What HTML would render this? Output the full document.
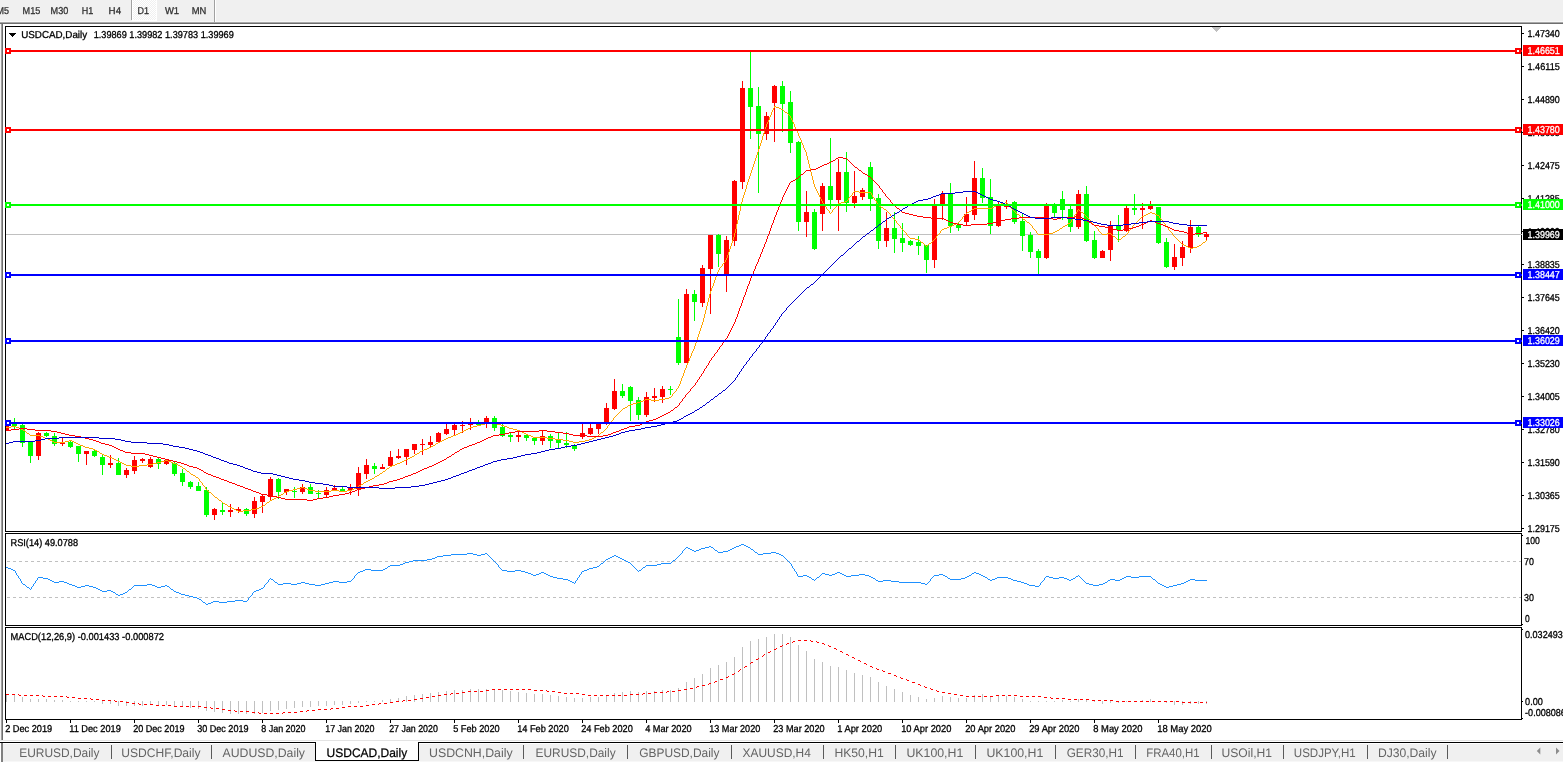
<!DOCTYPE html>
<html lang="en"><head><meta charset="utf-8"><title>USDCAD,Daily</title>
<style>html,body{margin:0;padding:0;background:#fff;overflow:hidden}body{width:1563px;height:763px}svg{display:block;font-family:"Liberation Sans",sans-serif}</style>
</head><body>
<svg width="1563" height="763" viewBox="0 0 1563 763" shape-rendering="crispEdges" text-rendering="geometricPrecision">
<defs><pattern id="chk" width="2" height="2" patternUnits="userSpaceOnUse"><rect width="2" height="2" fill="#f0f0f0"/><rect width="1" height="1" fill="#fff"/><rect x="1" y="1" width="1" height="1" fill="#fff"/></pattern>
<clipPath id="cm"><rect x="6" y="27" width="1515" height="504"/></clipPath></defs>
<rect x="0" y="0" width="1563" height="763" fill="#fff"/>
<g id="toolbar">
<rect x="0" y="0" width="1563" height="21" fill="#f0f0f0"/>
<rect x="0" y="21" width="1563" height="1" fill="#f7f7f7"/>
<rect x="0" y="22" width="1563" height="1" fill="#a8a8a8"/>
<rect x="0" y="23" width="1563" height="1" fill="#6e6e6e"/>
<rect x="133" y="0" width="23" height="20" fill="url(#chk)"/>
<rect x="156" y="0" width="1" height="21" fill="#fff"/>
<rect x="132" y="20" width="25" height="1" fill="#fff"/>
<rect x="131" y="0" width="1" height="20" fill="#a0a0a0"/>
<rect x="132" y="0" width="1" height="20" fill="#fff"/>
<rect x="214" y="0" width="1" height="22" fill="#a0a0a0"/>
<rect x="215" y="0" width="1" height="22" fill="#fff"/>
<text x="-3.5" y="14" font-size="10" fill="#333" stroke="#333" stroke-width="0.3" textLength="12.5" lengthAdjust="spacingAndGlyphs">M5</text>
<text x="22.6" y="14" font-size="10" fill="#333" stroke="#333" stroke-width="0.3" textLength="17.7" lengthAdjust="spacingAndGlyphs">M15</text>
<text x="50.6" y="14" font-size="10" fill="#333" stroke="#333" stroke-width="0.3" textLength="17.7" lengthAdjust="spacingAndGlyphs">M30</text>
<text x="81.7" y="14" font-size="10" fill="#333" stroke="#333" stroke-width="0.3" textLength="11.5" lengthAdjust="spacingAndGlyphs">H1</text>
<text x="108.6" y="14" font-size="10" fill="#333" stroke="#333" stroke-width="0.3" textLength="12.5" lengthAdjust="spacingAndGlyphs">H4</text>
<text x="137.6" y="14" font-size="10" fill="#333" stroke="#333" stroke-width="0.3" textLength="11.5" lengthAdjust="spacingAndGlyphs">D1</text>
<text x="164.9" y="14" font-size="10" fill="#333" stroke="#333" stroke-width="0.3" textLength="14.2" lengthAdjust="spacingAndGlyphs">W1</text>
<text x="191.7" y="14" font-size="10" fill="#333" stroke="#333" stroke-width="0.3" textLength="14.6" lengthAdjust="spacingAndGlyphs">MN</text>
</g>
<rect x="0" y="24" width="1" height="716" fill="#f4f4f4"/>
<rect x="1" y="24" width="1" height="716" fill="#a0a0a0"/>
<rect x="2" y="24" width="1" height="716" fill="#6e6e6e"/>
<g clip-path="url(#cm)">
<rect x="6" y="234" width="1515" height="1" fill="#c0c0c0"/>
<g id="candles">
<path fill="#f00" d="M6 420h1v11h-1zM4 420h5v11h-5zM38 432h1v28h-1zM36 433h5v23h-5zM62 438h1v8h-1zM60 442h5v2h-5zM86 451h1v14h-1zM84 451h5v3h-5zM110 455h1v13h-1zM108 463h5v2h-5zM126 468h1v10h-1zM124 470h5v5h-5zM134 456h1v18h-1zM132 460h5v11h-5zM142 458h1v5h-1zM140 459h5v2h-5zM150 457h1v11h-1zM148 459h5v8h-5zM166 460h1v5h-1zM164 460h5v4h-5zM214 508h1v12h-1zM212 509h5v6h-5zM230 504h1v13h-1zM228 510h5v2h-5zM238 507h1v6h-1zM236 509h5v2h-5zM254 497h1v21h-1zM252 501h5v13h-5zM262 495h1v18h-1zM260 496h5v6h-5zM270 477h1v23h-1zM268 479h5v18h-5zM286 489h1v6h-1zM284 489h5v3h-5zM302 484h1v10h-1zM300 487h5v5h-5zM326 487h1v11h-1zM324 490h5v5h-5zM334 485h1v6h-1zM332 488h5v3h-5zM350 484h1v11h-1zM348 488h5v2h-5zM358 467h1v29h-1zM356 473h5v16h-5zM366 459h1v20h-1zM364 465h5v9h-5zM382 464h1v5h-1zM380 467h5v2h-5zM390 451h1v15h-1zM388 457h5v9h-5zM398 449h1v10h-1zM396 456h5v2h-5zM406 449h1v16h-1zM404 449h5v8h-5zM414 444h1v10h-1zM412 444h5v6h-5zM422 439h1v16h-1zM420 444h5v1h-5zM430 436h1v11h-1zM428 442h5v3h-5zM438 432h1v11h-1zM436 433h5v9h-5zM446 424h1v11h-1zM444 429h5v5h-5zM454 424h1v11h-1zM452 425h5v5h-5zM462 421h1v12h-1zM460 425h5v1h-5zM470 418h1v12h-1zM468 423h5v2h-5zM486 416h1v12h-1zM484 418h5v6h-5zM518 431h1v11h-1zM516 435h5v2h-5zM542 430h1v15h-1zM540 436h5v5h-5zM582 424h1v15h-1zM580 433h5v4h-5zM590 424h1v11h-1zM588 428h5v6h-5zM598 422h1v12h-1zM596 424h5v5h-5zM606 403h1v22h-1zM604 408h5v15h-5zM614 379h1v31h-1zM612 391h5v18h-5zM646 392h1v25h-1zM644 397h5v18h-5zM654 388h1v14h-1zM652 396h5v2h-5zM662 386h1v17h-1zM660 389h5v8h-5zM686 289h1v74h-1zM684 294h5v69h-5zM702 265h1v42h-1zM700 268h5v35h-5zM710 235h1v79h-1zM708 235h5v34h-5zM726 236h1v56h-1zM724 240h5v35h-5zM734 180h1v66h-1zM732 181h5v60h-5zM742 81h1v108h-1zM740 88h5v94h-5zM766 112h1v28h-1zM764 116h5v18h-5zM774 85h1v57h-1zM772 86h5v17h-5zM806 191h1v46h-1zM804 212h5v10h-5zM822 183h1v48h-1zM820 186h5v28h-5zM838 159h1v72h-1zM836 172h5v28h-5zM854 171h1v37h-1zM852 196h5v7h-5zM862 188h1v12h-1zM860 190h5v7h-5zM886 212h1v35h-1zM884 228h5v13h-5zM934 199h1v69h-1zM932 205h5v55h-5zM942 191h1v29h-1zM940 194h5v10h-5zM966 197h1v28h-1zM964 214h5v8h-5zM974 161h1v59h-1zM972 178h5v37h-5zM998 202h1v25h-1zM996 205h5v21h-5zM1006 200h1v9h-1zM1004 206h5v1h-5zM1046 203h1v56h-1zM1044 206h5v52h-5zM1078 190h1v39h-1zM1076 194h5v33h-5zM1102 250h1v8h-1zM1100 251h5v7h-5zM1110 221h1v40h-1zM1108 225h5v25h-5zM1126 206h1v26h-1zM1124 208h5v23h-5zM1142 203h1v26h-1zM1140 208h5v2h-5zM1150 201h1v9h-1zM1148 206h5v3h-5zM1174 244h1v26h-1zM1172 257h5v10h-5zM1182 241h1v25h-1zM1180 247h5v11h-5zM1190 220h1v33h-1zM1188 227h5v21h-5zM1206 233h1v7h-1zM1204 234h5v3h-5z"/>
<path fill="#0f0" d="M14 418h1v11h-1zM12 422h5v4h-5zM22 424h1v23h-1zM20 425h5v18h-5zM30 442h1v21h-1zM28 442h5v14h-5zM46 432h1v5h-1zM44 433h5v3h-5zM54 433h1v13h-1zM52 436h5v8h-5zM70 441h1v7h-1zM68 442h5v5h-5zM78 446h1v16h-1zM76 446h5v8h-5zM94 450h1v7h-1zM92 451h5v5h-5zM102 455h1v20h-1zM100 457h5v8h-5zM118 458h1v17h-1zM116 463h5v12h-5zM158 458h1v11h-1zM156 459h5v5h-5zM174 462h1v14h-1zM172 463h5v11h-5zM182 469h1v17h-1zM180 473h5v9h-5zM190 481h1v8h-1zM188 482h5v5h-5zM198 482h1v9h-1zM196 486h5v5h-5zM206 487h1v30h-1zM204 490h5v25h-5zM222 502h1v13h-1zM220 510h5v2h-5zM246 508h1v8h-1zM244 509h5v5h-5zM278 478h1v21h-1zM276 479h5v13h-5zM294 487h1v11h-1zM292 491h5v1h-5zM310 484h1v10h-1zM308 487h5v7h-5zM318 490h1v8h-1zM316 493h5v1h-5zM342 487h1v4h-1zM340 489h5v2h-5zM374 463h1v11h-1zM372 466h5v3h-5zM478 420h1v5h-1zM476 422h5v3h-5zM494 416h1v15h-1zM492 418h5v10h-5zM502 424h1v13h-1zM500 427h5v9h-5zM510 433h1v9h-1zM508 435h5v2h-5zM526 434h1v7h-1zM524 435h5v3h-5zM534 437h1v8h-1zM532 438h5v3h-5zM550 434h1v14h-1zM548 436h5v5h-5zM558 433h1v16h-1zM556 440h5v3h-5zM566 432h1v16h-1zM564 443h5v2h-5zM574 444h1v7h-1zM572 445h5v4h-5zM622 384h1v14h-1zM620 391h5v5h-5zM630 386h1v35h-1zM628 387h5v14h-5zM638 397h1v23h-1zM636 400h5v15h-5zM670 386h1v9h-1zM668 389h5v1h-5zM678 299h1v66h-1zM676 337h5v26h-5zM694 290h1v31h-1zM692 294h5v8h-5zM718 234h1v33h-1zM716 235h5v19h-5zM750 52h1v87h-1zM748 88h5v19h-5zM758 87h1v106h-1zM756 106h5v28h-5zM782 81h1v51h-1zM780 86h5v18h-5zM790 91h1v62h-1zM788 102h5v41h-5zM798 141h1v90h-1zM796 142h5v80h-5zM814 209h1v41h-1zM812 212h5v37h-5zM830 138h1v71h-1zM828 186h5v14h-5zM846 152h1v60h-1zM844 172h5v31h-5zM870 162h1v49h-1zM868 167h5v32h-5zM878 194h1v55h-1zM876 198h5v43h-5zM894 212h1v41h-1zM892 228h5v11h-5zM902 223h1v29h-1zM900 238h5v5h-5zM910 240h1v6h-1zM908 241h5v4h-5zM918 236h1v19h-1zM916 242h5v4h-5zM926 245h1v28h-1zM924 245h5v15h-5zM950 183h1v50h-1zM948 194h5v32h-5zM958 223h1v8h-1zM956 225h5v3h-5zM982 168h1v35h-1zM980 178h5v20h-5zM990 179h1v55h-1zM988 197h5v29h-5zM1014 201h1v23h-1zM1012 202h5v20h-5zM1022 214h1v37h-1zM1020 221h5v15h-5zM1030 232h1v26h-1zM1028 235h5v17h-5zM1038 249h1v25h-1zM1036 251h5v7h-5zM1054 203h1v14h-1zM1052 205h5v8h-5zM1062 191h1v29h-1zM1060 199h5v11h-5zM1070 206h1v26h-1zM1068 209h5v18h-5zM1086 186h1v56h-1zM1084 194h5v47h-5zM1094 231h1v28h-1zM1092 240h5v18h-5zM1118 215h1v27h-1zM1116 225h5v5h-5zM1134 194h1v21h-1zM1132 208h5v2h-5zM1158 207h1v37h-1zM1156 207h5v36h-5zM1166 238h1v30h-1zM1164 242h5v25h-5zM1198 226h1v11h-1zM1196 227h5v8h-5z"/>
</g>
<g id="ma">
<path fill="#ffa500" d="M610 422h1v2h-1zM684 370h1v3h-1zM199 479h1v2h-1zM750 173h1v3h-1zM735 229h1v4h-1zM681 378h1v3h-1zM717 272h1v3h-1zM1076 212h1v2h-1zM697 337h1v3h-1zM762 136h1v4h-1zM814 184h1v3h-1zM794 124h1v3h-1zM704 314h1v4h-1zM890 214h1v2h-1zM742 198h1v4h-1zM821 199h1v2h-1zM801 140h1v3h-1zM822 201h1v2h-1zM691 353h1v3h-1zM680 381h1v3h-1zM807 156h1v4h-1zM708 298h1v4h-1zM676 389h1v2h-1zM695 343h1v3h-1zM1071 220h1v2h-1zM703 318h1v4h-1zM741 202h1v4h-1zM733 237h1v3h-1zM765 127h1v3h-1zM810 168h1v4h-1zM745 189h1v3h-1zM795 127h1v2h-1zM813 180h1v4h-1zM753 164h1v3h-1zM802 143h1v2h-1zM1036 231h1v2h-1zM820 197h1v2h-1zM711 288h1v3h-1zM806 152h1v4h-1zM740 206h1v5h-1zM764 130h1v3h-1zM744 192h1v3h-1zM772 110h1v2h-1zM710 291h1v3h-1zM739 211h1v4h-1zM730 246h1v3h-1zM756 155h1v3h-1zM714 280h1v3h-1zM705 310h1v4h-1zM743 195h1v3h-1zM768 120h1v2h-1zM747 182h1v3h-1zM688 361h1v2h-1zM729 249h1v3h-1zM755 158h1v3h-1zM754 161h1v3h-1zM713 283h1v3h-1zM205 487h1v2h-1zM759 146h1v3h-1zM746 185h1v4h-1zM687 363h1v2h-1zM737 220h1v4h-1zM1162 220h1v2h-1zM732 240h1v3h-1zM686 365h1v3h-1zM796 129h1v2h-1zM877 203h1v2h-1zM694 346h1v3h-1zM731 243h1v3h-1zM719 268h1v2h-1zM693 349h1v2h-1zM906 233h1v2h-1zM798 133h1v3h-1zM734 233h1v4h-1zM767 122h1v2h-1zM826 207h1v2h-1zM962 217h1v2h-1zM738 215h1v5h-1zM696 340h1v3h-1zM1072 218h1v2h-1zM202 483h1v2h-1zM679 384h1v2h-1zM700 328h1v3h-1zM848 198h1v2h-1zM811 172h1v4h-1zM1159 216h1v2h-1zM683 373h1v3h-1zM712 286h1v2h-1zM803 145h1v3h-1zM716 275h1v2h-1zM736 224h1v5h-1zM690 356h1v2h-1zM809 164h1v4h-1zM1074 215h1v2h-1zM689 358h1v3h-1zM936 236h1v2h-1zM1077 210h1v2h-1zM791 118h1v2h-1zM726 258h1v2h-1zM815 187h1v2h-1zM808 160h1v4h-1zM871 193h1v2h-1zM771 112h1v3h-1zM725 260h1v2h-1zM852 193h1v2h-1zM758 149h1v3h-1zM709 294h1v4h-1zM613 418h1v2h-1zM774 106h1v2h-1zM1128 231h1v2h-1zM749 176h1v3h-1zM832 210h1v2h-1zM757 152h1v3h-1zM699 331h1v3h-1zM1165 224h1v2h-1zM1032 226h1v2h-1zM1010 206h1v2h-1zM761 140h1v3h-1zM769 117h1v3h-1zM682 376h1v2h-1zM748 179h1v3h-1zM698 334h1v3h-1zM707 302h1v4h-1zM812 176h1v4h-1zM752 167h1v3h-1zM760 143h1v3h-1zM805 150h1v2h-1zM702 322h1v3h-1zM823 203h1v2h-1zM940 231h1v2h-1zM685 368h1v2h-1zM701 325h1v3h-1zM763 133h1v3h-1zM797 131h1v2h-1zM692 351h1v2h-1zM1132 226h1v2h-1zM817 191h1v2h-1zM770 115h1v2h-1zM1090 220h1v2h-1zM715 277h1v3h-1zM819 195h1v2h-1zM816 189h1v2h-1zM672 394h1v2h-1zM872 195h1v2h-1zM751 170h1v3h-1zM829 211h1v2h-1zM793 122h1v2h-1zM790 116h1v2h-1zM800 138h1v2h-1zM804 148h1v2h-1zM728 252h1v3h-1zM874 198h1v2h-1zM896 221h1v2h-1zM766 124h1v3h-1zM727 255h1v3h-1zM706 306h1v4h-1zM773 108h1v2h-1zM876 201h1v2h-1zM1168 228h1v2h-1zM722 264h1v2h-1zM607 426h1v2h-1zM718 270h1v2h-1zM1098 229h1v2h-1zM836 205h1v2h-1zM900 226h1v2h-1zM818 193h1v2h-1zM678 386h1v2h-1zM792 120h1v2h-1zM1172 233h1v2h-1zM799 136h1v2h-1zM643 400h2v1h-2zM651 400h8v1h-8zM122 463h2v1h-2zM153 463h4v1h-4zM173 463h3v1h-3zM397 463h3v1h-3zM949 226h3v1h-3zM1063 226h2v1h-2zM1095 226h1v1h-1zM1166 226h1v1h-1zM924 244h1v1h-1zM928 244h1v1h-1zM1182 244h2v1h-2zM1201 244h1v1h-1zM903 230h1v1h-1zM941 230h1v1h-1zM1035 230h1v1h-1zM1057 230h2v1h-2zM1129 230h1v1h-1zM1169 230h1v1h-1zM640 401h3v1h-3zM908 236h1v1h-1zM1113 236h2v1h-2zM1123 236h2v1h-2zM1174 236h1v1h-1zM939 233h1v1h-1zM1037 233h1v1h-1zM1049 233h4v1h-4zM1101 233h1v1h-1zM1107 233h4v1h-4zM1127 233h1v1h-1zM830 213h1v1h-1zM889 213h1v1h-1zM966 213h1v1h-1zM1016 213h1v1h-1zM1083 213h1v1h-1zM1148 213h2v1h-2zM1152 213h3v1h-3zM198 478h1v1h-1zM372 478h2v1h-2zM485 423h12v1h-12zM212 494h1v1h-1zM281 494h2v1h-2zM938 234h1v1h-1zM1038 234h11v1h-11zM1102 234h5v1h-5zM1111 234h1v1h-1zM1126 234h1v1h-1zM6 427h5v1h-5zM16 427h3v1h-3zM470 427h3v1h-3zM507 427h2v1h-2zM11 426h5v1h-5zM473 426h4v1h-4zM504 426h3v1h-3zM902 229h1v1h-1zM942 229h2v1h-2zM1034 229h1v1h-1zM1059 229h1v1h-1zM1130 229h1v1h-1zM920 241h1v1h-1zM932 241h1v1h-1zM1179 241h1v1h-1zM1205 241h1v1h-1zM228 506h2v1h-2zM261 506h2v1h-2zM207 490h1v1h-1zM289 490h4v1h-4zM309 490h6v1h-6zM331 490h8v1h-8zM347 490h5v1h-5zM131 466h8v1h-8zM180 466h2v1h-2zM390 466h2v1h-2zM297 488h4v1h-4zM304 488h3v1h-3zM354 488h2v1h-2zM834 208h1v1h-1zM883 208h1v1h-1zM974 208h18v1h-18zM1011 208h1v1h-1zM849 197h1v1h-1zM873 197h1v1h-1zM926 246h1v1h-1zM1186 246h2v1h-2zM1197 246h2v1h-2zM50 440h2v1h-2zM69 440h3v1h-3zM442 440h2v1h-2zM563 440h6v1h-6zM585 440h4v1h-4zM910 238h5v1h-5zM935 238h1v1h-1zM1116 238h1v1h-1zM1121 238h1v1h-1zM1176 238h1v1h-1zM841 202h4v1h-4zM1005 202h2v1h-2zM898 224h1v1h-1zM954 224h2v1h-2zM1030 224h1v1h-1zM1067 224h1v1h-1zM1093 224h1v1h-1zM1134 224h1v1h-1zM965 214h1v1h-1zM1017 214h2v1h-2zM1075 214h1v1h-1zM1084 214h1v1h-1zM1146 214h2v1h-2zM1155 214h2v1h-2zM837 204h1v1h-1zM998 204h3v1h-3zM1008 204h1v1h-1zM30 435h10v1h-10zM453 435h3v1h-3zM528 435h3v1h-3zM598 435h1v1h-1zM645 399h6v1h-6zM659 399h6v1h-6zM118 461h2v1h-2zM161 461h4v1h-4zM168 461h3v1h-3zM402 461h2v1h-2zM905 232h1v1h-1zM1053 232h2v1h-2zM1100 232h1v1h-1zM1171 232h1v1h-1zM907 235h1v1h-1zM937 235h1v1h-1zM1112 235h1v1h-1zM1125 235h1v1h-1zM1173 235h1v1h-1zM78 444h2v1h-2zM435 444h1v1h-1zM206 489h1v1h-1zM293 489h4v1h-4zM307 489h2v1h-2zM352 489h2v1h-2zM964 215h1v1h-1zM1019 215h1v1h-1zM1085 215h1v1h-1zM1144 215h2v1h-2zM1157 215h2v1h-2zM190 473h1v1h-1zM380 473h2v1h-2zM959 221h1v1h-1zM1026 221h1v1h-1zM1137 221h1v1h-1zM1188 247h2v1h-2zM1193 247h4v1h-4zM40 436h3v1h-3zM451 436h2v1h-2zM531 436h2v1h-2zM596 436h2v1h-2zM923 243h1v1h-1zM929 243h2v1h-2zM1181 243h1v1h-1zM1202 243h1v1h-1zM618 413h1v1h-1zM54 442h11v1h-11zM74 442h2v1h-2zM438 442h2v1h-2zM573 442h6v1h-6zM854 191h5v1h-5zM27 433h2v1h-2zM458 433h2v1h-2zM524 433h2v1h-2zM600 433h1v1h-1zM892 217h1v1h-1zM1021 217h1v1h-1zM1073 217h1v1h-1zM1087 217h1v1h-1zM1141 217h1v1h-1zM124 464h2v1h-2zM147 464h6v1h-6zM176 464h2v1h-2zM395 464h2v1h-2zM1190 248h3v1h-3zM186 470h1v1h-1zM385 470h1v1h-1zM825 206h1v1h-1zM879 206h2v1h-2zM994 206h2v1h-2zM43 437h2v1h-2zM448 437h3v1h-3zM533 437h14v1h-14zM594 437h2v1h-2zM230 507h2v1h-2zM259 507h2v1h-2zM893 218h1v1h-1zM1022 218h1v1h-1zM1088 218h1v1h-1zM1140 218h1v1h-1zM1160 218h1v1h-1zM897 223h1v1h-1zM956 223h2v1h-2zM1029 223h1v1h-1zM1068 223h2v1h-2zM1092 223h1v1h-1zM1135 223h1v1h-1zM1164 223h1v1h-1zM958 222h1v1h-1zM1027 222h2v1h-2zM1070 222h1v1h-1zM1091 222h1v1h-1zM1136 222h1v1h-1zM1163 222h1v1h-1zM208 491h1v1h-1zM286 491h3v1h-3zM315 491h16v1h-16zM339 491h8v1h-8zM901 228h1v1h-1zM944 228h3v1h-3zM1033 228h1v1h-1zM1060 228h2v1h-2zM1097 228h1v1h-1zM1131 228h1v1h-1zM481 424h4v1h-4zM497 424h4v1h-4zM609 424h1v1h-1zM97 451h2v1h-2zM420 451h2v1h-2zM25 431h1v1h-1zM462 431h2v1h-2zM520 431h2v1h-2zM603 431h1v1h-1zM107 456h2v1h-2zM412 456h2v1h-2zM238 511h5v1h-5zM947 227h2v1h-2zM1062 227h1v1h-1zM1096 227h1v1h-1zM1167 227h1v1h-1zM899 225h1v1h-1zM952 225h2v1h-2zM1031 225h1v1h-1zM1065 225h2v1h-2zM1094 225h1v1h-1zM1133 225h1v1h-1zM234 509h2v1h-2zM251 509h5v1h-5zM223 503h2v1h-2zM266 503h1v1h-1zM894 219h1v1h-1zM961 219h1v1h-1zM1023 219h2v1h-2zM1089 219h1v1h-1zM1139 219h1v1h-1zM1161 219h1v1h-1zM827 209h1v1h-1zM833 209h1v1h-1zM884 209h2v1h-2zM972 209h2v1h-2zM1012 209h1v1h-1zM1078 209h1v1h-1zM52 441h2v1h-2zM65 441h4v1h-4zM72 441h2v1h-2zM440 441h2v1h-2zM569 441h4v1h-4zM579 441h6v1h-6zM19 428h2v1h-2zM468 428h2v1h-2zM509 428h4v1h-4zM606 428h1v1h-1zM221 501h1v1h-1zM269 501h1v1h-1zM236 510h2v1h-2zM243 510h8v1h-8zM853 192h1v1h-1zM859 192h12v1h-12zM209 492h2v1h-2zM284 492h2v1h-2zM85 447h4v1h-4zM429 447h2v1h-2zM191 474h2v1h-2zM379 474h1v1h-1zM83 446h2v1h-2zM431 446h2v1h-2zM193 475h2v1h-2zM377 475h2v1h-2zM26 432h1v1h-1zM460 432h2v1h-2zM522 432h2v1h-2zM601 432h2v1h-2zM45 438h3v1h-3zM446 438h2v1h-2zM547 438h8v1h-8zM592 438h2v1h-2zM48 439h2v1h-2zM444 439h2v1h-2zM555 439h8v1h-8zM589 439h3v1h-3zM368 480h2v1h-2zM615 416h1v1h-1zM126 465h5v1h-5zM139 465h8v1h-8zM178 465h2v1h-2zM392 465h3v1h-3zM785 112h2v1h-2zM915 239h4v1h-4zM934 239h1v1h-1zM1117 239h1v1h-1zM1119 239h2v1h-2zM1177 239h1v1h-1zM625 407h2v1h-2zM80 445h3v1h-3zM433 445h2v1h-2zM195 476h1v1h-1zM375 476h2v1h-2zM671 396h1v1h-1zM630 404h3v1h-3zM622 409h1v1h-1zM112 458h2v1h-2zM408 458h2v1h-2zM665 398h4v1h-4zM887 211h1v1h-1zM969 211h2v1h-2zM1014 211h1v1h-1zM1080 211h1v1h-1zM23 430h2v1h-2zM464 430h2v1h-2zM517 430h3v1h-3zM604 430h1v1h-1zM76 443h2v1h-2zM436 443h2v1h-2zM637 402h3v1h-3zM89 448h4v1h-4zM427 448h2v1h-2zM477 425h4v1h-4zM501 425h3v1h-3zM608 425h1v1h-1zM201 482h1v1h-1zM364 482h2v1h-2zM721 266h1v1h-1zM120 462h2v1h-2zM157 462h4v1h-4zM171 462h2v1h-2zM400 462h2v1h-2zM301 487h3v1h-3zM356 487h2v1h-2zM824 205h1v1h-1zM878 205h1v1h-1zM996 205h2v1h-2zM1009 205h1v1h-1zM219 500h2v1h-2zM270 500h2v1h-2zM724 262h1v1h-1zM835 207h1v1h-1zM881 207h2v1h-2zM992 207h2v1h-2zM925 245h1v1h-1zM927 245h1v1h-1zM1184 245h2v1h-2zM1199 245h2v1h-2zM215 497h2v1h-2zM276 497h2v1h-2zM781 109h2v1h-2zM904 231h1v1h-1zM1055 231h2v1h-2zM1099 231h1v1h-1zM1170 231h1v1h-1zM838 203h3v1h-3zM1001 203h4v1h-4zM1007 203h1v1h-1zM232 508h2v1h-2zM256 508h3v1h-3zM114 459h2v1h-2zM406 459h2v1h-2zM104 455h3v1h-3zM414 455h1v1h-1zM921 242h2v1h-2zM931 242h1v1h-1zM1180 242h1v1h-1zM1203 242h2v1h-2zM95 450h2v1h-2zM422 450h2v1h-2zM109 457h3v1h-3zM410 457h2v1h-2zM99 452h1v1h-1zM419 452h1v1h-1zM29 434h1v1h-1zM456 434h2v1h-2zM526 434h2v1h-2zM599 434h1v1h-1zM831 212h1v1h-1zM888 212h1v1h-1zM967 212h2v1h-2zM1015 212h1v1h-1zM1081 212h2v1h-2zM1150 212h2v1h-2zM361 484h2v1h-2zM776 107h3v1h-3zM102 454h2v1h-2zM415 454h2v1h-2zM851 195h1v1h-1zM370 479h2v1h-2zM187 471h2v1h-2zM383 471h2v1h-2zM623 408h2v1h-2zM628 405h2v1h-2zM21 429h2v1h-2zM466 429h2v1h-2zM513 429h4v1h-4zM605 429h1v1h-1zM617 414h1v1h-1zM612 420h1v1h-1zM182 467h1v1h-1zM389 467h1v1h-1zM227 505h1v1h-1zM263 505h2v1h-2zM669 397h2v1h-2zM213 495h1v1h-1zM279 495h2v1h-2zM222 502h1v1h-1zM267 502h2v1h-2zM200 481h1v1h-1zM366 481h2v1h-2zM183 468h2v1h-2zM387 468h2v1h-2zM203 485h1v1h-1zM359 485h2v1h-2zM828 210h1v1h-1zM886 210h1v1h-1zM971 210h1v1h-1zM1013 210h1v1h-1zM1079 210h1v1h-1zM204 486h1v1h-1zM358 486h1v1h-1zM891 216h1v1h-1zM963 216h1v1h-1zM1020 216h1v1h-1zM1086 216h1v1h-1zM1142 216h2v1h-2zM116 460h2v1h-2zM165 460h3v1h-3zM404 460h2v1h-2zM673 393h1v1h-1zM919 240h1v1h-1zM933 240h1v1h-1zM1118 240h1v1h-1zM1178 240h1v1h-1zM1206 240h1v1h-1zM633 403h4v1h-4zM211 493h1v1h-1zM283 493h1v1h-1zM225 504h2v1h-2zM265 504h1v1h-1zM788 114h1v1h-1zM196 477h2v1h-2zM374 477h1v1h-1zM93 449h2v1h-2zM424 449h3v1h-3zM363 483h1v1h-1zM787 113h1v1h-1zM909 237h1v1h-1zM1115 237h1v1h-1zM1122 237h1v1h-1zM1175 237h1v1h-1zM850 196h1v1h-1zM619 412h1v1h-1zM100 453h2v1h-2zM417 453h2v1h-2zM214 496h1v1h-1zM278 496h1v1h-1zM783 110h1v1h-1zM217 498h1v1h-1zM274 498h2v1h-2zM611 421h1v1h-1zM189 472h1v1h-1zM382 472h1v1h-1zM779 108h2v1h-2zM775 106h1v1h-1zM845 201h2v1h-2zM675 391h1v1h-1zM614 417h1v1h-1zM895 220h1v1h-1zM960 220h1v1h-1zM1025 220h1v1h-1zM1138 220h1v1h-1zM720 267h1v1h-1zM621 410h1v1h-1zM847 200h1v1h-1zM875 200h1v1h-1zM789 115h1v1h-1zM218 499h1v1h-1zM272 499h2v1h-2zM616 415h1v1h-1zM674 392h1v1h-1zM723 263h1v1h-1zM784 111h1v1h-1zM185 469h1v1h-1zM386 469h1v1h-1zM627 406h1v1h-1zM620 411h1v1h-1zM677 388h1v1h-1z"/>
<path fill="#f00" d="M739 308h1v3h-1zM773 220h1v3h-1zM728 334h1v2h-1zM748 284h1v2h-1zM783 195h1v2h-1zM679 403h1v2h-1zM772 223h1v2h-1zM727 336h1v2h-1zM722 343h1v2h-1zM746 289h1v3h-1zM780 202h1v3h-1zM755 266h1v3h-1zM770 228h1v3h-1zM738 311h1v3h-1zM706 366h1v2h-1zM779 205h1v2h-1zM733 324h1v2h-1zM787 187h1v2h-1zM742 300h1v3h-1zM762 249h1v3h-1zM749 281h1v3h-1zM769 231h1v3h-1zM685 395h1v2h-1zM732 326h1v2h-1zM766 239h1v3h-1zM701 374h1v2h-1zM786 189h1v2h-1zM740 306h1v2h-1zM756 264h1v2h-1zM731 328h1v2h-1zM763 247h1v2h-1zM752 274h1v2h-1zM711 358h1v2h-1zM735 319h1v3h-1zM759 257h1v2h-1zM697 380h1v2h-1zM751 276h1v2h-1zM879 186h1v2h-1zM750 278h1v3h-1zM758 259h1v3h-1zM690 389h1v2h-1zM741 303h1v3h-1zM782 197h1v3h-1zM745 292h1v3h-1zM765 242h1v2h-1zM781 200h1v2h-1zM764 244h1v3h-1zM743 297h1v3h-1zM734 322h1v2h-1zM775 215h1v2h-1zM730 330h1v2h-1zM885 194h1v2h-1zM774 217h1v3h-1zM729 332h1v2h-1zM725 339h1v2h-1zM757 262h1v2h-1zM789 183h1v2h-1zM719 347h1v2h-1zM744 295h1v2h-1zM760 254h1v3h-1zM768 234h1v2h-1zM788 185h1v2h-1zM699 377h1v2h-1zM695 383h1v2h-1zM747 286h1v3h-1zM767 236h1v3h-1zM682 399h1v2h-1zM771 225h1v3h-1zM754 269h1v2h-1zM709 361h1v2h-1zM737 314h1v3h-1zM778 207h1v3h-1zM761 252h1v2h-1zM708 363h1v2h-1zM704 369h1v2h-1zM777 210h1v2h-1zM785 191h1v2h-1zM784 193h1v2h-1zM714 354h1v2h-1zM753 271h1v3h-1zM703 371h1v2h-1zM776 212h1v3h-1zM890 200h1v2h-1zM882 190h1v2h-1zM717 350h1v2h-1zM736 317h1v2h-1zM804 172h1v1h-1zM862 172h1v1h-1zM256 492h3v1h-3zM349 492h3v1h-3zM680 402h1v1h-1zM204 472h2v1h-2zM416 472h2v1h-2zM1109 228h4v1h-4zM1129 228h4v1h-4zM1170 228h2v1h-2zM656 418h2v1h-2zM923 217h8v1h-8zM1019 217h30v1h-30zM1061 217h14v1h-14zM1080 217h2v1h-2zM61 433h4v1h-4zM505 433h4v1h-4zM563 433h6v1h-6zM611 433h2v1h-2zM307 500h6v1h-6zM11 429h8v1h-8zM27 429h8v1h-8zM621 429h3v1h-3zM273 496h4v1h-4zM329 496h4v1h-4zM69 435h6v1h-6zM493 435h6v1h-6zM573 435h14v1h-14zM603 435h5v1h-5zM696 382h1v1h-1zM285 499h22v1h-22zM313 499h4v1h-4zM805 171h1v1h-1zM861 171h1v1h-1zM93 440h3v1h-3zM482 440h2v1h-2zM237 485h3v1h-3zM373 485h6v1h-6zM75 436h6v1h-6zM491 436h2v1h-2zM587 436h16v1h-16zM251 490h2v1h-2zM355 490h2v1h-2zM131 453h14v1h-14zM454 453h1v1h-1zM51 431h6v1h-6zM515 431h24v1h-24zM547 431h8v1h-8zM616 431h3v1h-3zM281 498h4v1h-4zM317 498h6v1h-6zM691 388h1v1h-1zM261 494h6v1h-6zM339 494h6v1h-6zM123 451h2v1h-2zM457 451h2v1h-2zM950 222h3v1h-3zM993 222h4v1h-4zM1089 222h2v1h-2zM1146 222h2v1h-2zM1155 222h2v1h-2zM917 216h6v1h-6zM1075 216h5v1h-5zM931 218h13v1h-13zM1011 218h8v1h-8zM1049 218h4v1h-4zM1057 218h4v1h-4zM1082 218h2v1h-2zM649 420h4v1h-4zM187 465h2v1h-2zM432 465h2v1h-2zM149 455h4v1h-4zM451 455h1v1h-1zM259 493h2v1h-2zM345 493h4v1h-4zM213 476h3v1h-3zM405 476h3v1h-3zM253 491h3v1h-3zM352 491h3v1h-3zM277 497h4v1h-4zM323 497h6v1h-6zM816 168h2v1h-2zM857 168h1v1h-1zM81 437h4v1h-4zM488 437h3v1h-3zM646 421h3v1h-3zM1189 234h6v1h-6zM101 443h4v1h-4zM475 443h2v1h-2zM963 225h8v1h-8zM1094 225h5v1h-5zM1139 225h2v1h-2zM1163 225h2v1h-2zM629 426h6v1h-6zM948 221h2v1h-2zM997 221h4v1h-4zM1087 221h2v1h-2zM1148 221h2v1h-2zM1152 221h3v1h-3zM197 468h2v1h-2zM424 468h3v1h-3zM671 410h2v1h-2zM105 444h4v1h-4zM472 444h3v1h-3zM65 434h4v1h-4zM499 434h6v1h-6zM569 434h4v1h-4zM608 434h3v1h-3zM199 469h2v1h-2zM422 469h2v1h-2zM944 219h2v1h-2zM1005 219h6v1h-6zM1053 219h4v1h-4zM1084 219h2v1h-2zM224 480h3v1h-3zM393 480h4v1h-4zM153 456h4v1h-4zM449 456h2v1h-2zM6 430h5v1h-5zM35 430h16v1h-16zM539 430h8v1h-8zM619 430h2v1h-2zM216 477h3v1h-3zM403 477h2v1h-2zM635 425h5v1h-5zM953 223h4v1h-4zM987 223h6v1h-6zM1091 223h1v1h-1zM1144 223h2v1h-2zM1157 223h3v1h-3zM114 447h2v1h-2zM464 447h3v1h-3zM901 211h1v1h-1zM822 165h2v1h-2zM853 165h1v1h-1zM957 224h6v1h-6zM971 224h16v1h-16zM1092 224h2v1h-2zM1141 224h3v1h-3zM1160 224h3v1h-3zM1113 229h4v1h-4zM1123 229h6v1h-6zM1172 229h2v1h-2zM19 428h8v1h-8zM624 428h3v1h-3zM57 432h4v1h-4zM509 432h6v1h-6zM555 432h8v1h-8zM613 432h3v1h-3zM1187 233h2v1h-2zM1195 233h8v1h-8zM796 178h2v1h-2zM871 178h1v1h-1zM109 445h3v1h-3zM469 445h3v1h-3zM795 179h1v1h-1zM872 179h1v1h-1zM799 176h1v1h-1zM868 176h2v1h-2zM897 208h2v1h-2zM235 484h2v1h-2zM379 484h5v1h-5zM267 495h6v1h-6zM333 495h6v1h-6zM806 170h5v1h-5zM859 170h2v1h-2zM818 167h2v1h-2zM855 167h2v1h-2zM227 481h2v1h-2zM389 481h4v1h-4zM1099 226h6v1h-6zM1136 226h3v1h-3zM1165 226h3v1h-3zM145 454h4v1h-4zM452 454h2v1h-2zM811 169h5v1h-5zM858 169h1v1h-1zM211 475h2v1h-2zM408 475h3v1h-3zM189 466h4v1h-4zM429 466h3v1h-3zM85 438h4v1h-4zM486 438h2v1h-2zM801 174h2v1h-2zM865 174h2v1h-2zM181 463h3v1h-3zM436 463h2v1h-2zM221 479h3v1h-3zM397 479h3v1h-3zM946 220h2v1h-2zM1001 220h4v1h-4zM1086 220h1v1h-1zM1150 220h2v1h-2zM800 175h1v1h-1zM867 175h1v1h-1zM693 386h1v1h-1zM702 373h1v1h-1zM889 199h1v1h-1zM118 449h2v1h-2zM460 449h2v1h-2zM1184 232h3v1h-3zM1203 232h4v1h-4zM157 457h4v1h-4zM447 457h2v1h-2zM229 482h3v1h-3zM387 482h2v1h-2zM99 442h2v1h-2zM477 442h3v1h-3zM243 487h2v1h-2zM365 487h4v1h-4zM125 452h6v1h-6zM455 452h2v1h-2zM721 345h1v1h-1zM1105 227h4v1h-4zM1133 227h3v1h-3zM1168 227h2v1h-2zM248 489h3v1h-3zM357 489h4v1h-4zM201 470h2v1h-2zM420 470h2v1h-2zM240 486h3v1h-3zM369 486h4v1h-4zM161 458h4v1h-4zM446 458h1v1h-1zM193 467h4v1h-4zM427 467h2v1h-2zM705 368h1v1h-1zM245 488h3v1h-3zM361 488h4v1h-4zM836 158h2v1h-2zM843 158h4v1h-4zM184 464h3v1h-3zM434 464h2v1h-2zM203 471h1v1h-1zM418 471h2v1h-2zM232 483h3v1h-3zM384 483h3v1h-3zM653 419h3v1h-3zM120 450h3v1h-3zM459 450h1v1h-1zM831 161h2v1h-2zM849 161h1v1h-1zM835 159h1v1h-1zM847 159h1v1h-1zM790 182h1v1h-1zM875 182h1v1h-1zM173 461h4v1h-4zM440 461h2v1h-2zM827 163h2v1h-2zM851 163h1v1h-1zM642 423h2v1h-2zM1117 230h6v1h-6zM1174 230h5v1h-5zM909 214h4v1h-4zM177 462h4v1h-4zM438 462h2v1h-2zM684 397h1v1h-1zM668 412h2v1h-2zM1179 231h5v1h-5zM96 441h3v1h-3zM480 441h2v1h-2zM883 192h1v1h-1zM884 193h1v1h-1zM644 422h2v1h-2zM206 473h2v1h-2zM413 473h3v1h-3zM664 414h2v1h-2zM913 215h4v1h-4zM838 157h5v1h-5zM660 416h2v1h-2zM640 424h2v1h-2zM627 427h2v1h-2zM698 379h1v1h-1zM707 365h1v1h-1zM678 405h1v1h-1zM726 338h1v1h-1zM694 385h1v1h-1zM893 204h1v1h-1zM894 205h1v1h-1zM219 478h2v1h-2zM400 478h3v1h-3zM686 394h1v1h-1zM658 417h2v1h-2zM905 213h4v1h-4zM899 209h1v1h-1zM900 210h1v1h-1zM112 446h2v1h-2zM467 446h2v1h-2zM673 409h1v1h-1zM713 356h1v1h-1zM798 177h1v1h-1zM870 177h1v1h-1zM895 206h1v1h-1zM824 164h3v1h-3zM852 164h1v1h-1zM896 207h1v1h-1zM677 406h1v1h-1zM165 459h4v1h-4zM444 459h2v1h-2zM888 198h1v1h-1zM700 376h1v1h-1zM820 166h2v1h-2zM854 166h1v1h-1zM876 183h1v1h-1zM877 184h1v1h-1zM887 197h1v1h-1zM666 413h2v1h-2zM793 180h2v1h-2zM873 180h1v1h-1zM688 392h1v1h-1zM683 398h1v1h-1zM208 474h3v1h-3zM411 474h2v1h-2zM116 448h2v1h-2zM462 448h2v1h-2zM169 460h4v1h-4zM442 460h2v1h-2zM662 415h2v1h-2zM675 407h2v1h-2zM715 353h1v1h-1zM710 360h1v1h-1zM89 439h4v1h-4zM484 439h2v1h-2zM833 160h2v1h-2zM848 160h1v1h-1zM791 181h2v1h-2zM874 181h1v1h-1zM803 173h1v1h-1zM863 173h2v1h-2zM878 185h1v1h-1zM829 162h2v1h-2zM850 162h1v1h-1zM718 349h1v1h-1zM670 411h1v1h-1zM724 341h1v1h-1zM892 203h1v1h-1zM712 357h1v1h-1zM902 212h3v1h-3zM881 189h1v1h-1zM891 202h1v1h-1zM880 188h1v1h-1zM681 401h1v1h-1zM720 346h1v1h-1zM692 387h1v1h-1zM687 393h1v1h-1zM674 408h1v1h-1zM723 342h1v1h-1zM886 196h1v1h-1zM689 391h1v1h-1zM716 352h1v1h-1z"/>
<path fill="#0000cd" d="M781 314h1v2h-1zM777 320h1v2h-1zM765 337h1v2h-1zM741 369h1v2h-1zM773 326h1v2h-1zM756 349h1v2h-1zM739 372h1v2h-1zM767 334h1v2h-1zM779 317h1v2h-1zM735 378h1v2h-1zM759 345h1v2h-1zM770 330h1v2h-1zM746 362h1v2h-1zM737 375h1v2h-1zM749 358h1v2h-1zM752 354h1v2h-1zM775 323h1v2h-1zM743 366h1v2h-1zM786 308h1v2h-1zM762 341h1v2h-1zM224 461h3v1h-3zM493 461h4v1h-4zM13 441h22v1h-22zM125 441h6v1h-6zM589 441h4v1h-4zM625 431h4v1h-4zM847 250h1v1h-1zM309 482h6v1h-6zM433 482h4v1h-4zM641 428h4v1h-4zM918 200h5v1h-5zM993 200h4v1h-4zM881 223h1v1h-1zM1097 223h4v1h-4zM1131 223h8v1h-8zM1173 223h6v1h-6zM878 225h1v1h-1zM1107 225h16v1h-16zM1187 225h20v1h-20zM805 289h1v1h-1zM6 443h3v1h-3zM147 443h16v1h-16zM581 443h4v1h-4zM347 487h32v1h-32zM395 487h16v1h-16zM273 474h4v1h-4zM459 474h2v1h-2zM323 484h6v1h-6zM425 484h4v1h-4zM59 437h40v1h-40zM605 437h4v1h-4zM879 224h2v1h-2zM1101 224h6v1h-6zM1123 224h8v1h-8zM1179 224h8v1h-8zM665 423h4v1h-4zM963 191h13v1h-13zM237 465h3v1h-3zM483 465h2v1h-2zM379 488h16v1h-16zM257 472h4v1h-4zM464 472h3v1h-3zM928 198h3v1h-3zM988 198h2v1h-2zM875 227h2v1h-2zM609 436h4v1h-4zM227 462h2v1h-2zM491 462h2v1h-2zM645 427h6v1h-6zM745 364h1v1h-1zM883 221h2v1h-2zM1089 221h4v1h-4zM1147 221h22v1h-22zM955 192h8v1h-8zM976 192h2v1h-2zM621 432h4v1h-4zM211 456h2v1h-2zM517 456h4v1h-4zM673 421h4v1h-4zM941 193h14v1h-14zM978 193h2v1h-2zM816 280h1v1h-1zM651 426h6v1h-6zM200 452h3v1h-3zM537 452h4v1h-4zM887 218h2v1h-2zM1035 218h16v1h-16zM1067 218h8v1h-8zM916 201h2v1h-2zM997 201h3v1h-3zM299 480h6v1h-6zM441 480h4v1h-4zM221 460h3v1h-3zM497 460h4v1h-4zM9 442h4v1h-4zM131 442h16v1h-16zM585 442h4v1h-4zM205 454h3v1h-3zM525 454h6v1h-6zM248 469h3v1h-3zM472 469h3v1h-3zM35 440h6v1h-6zM121 440h4v1h-4zM593 440h4v1h-4zM329 485h4v1h-4zM419 485h6v1h-6zM844 253h1v1h-1zM889 217h2v1h-2zM1030 217h5v1h-5zM1051 217h16v1h-16zM197 451h3v1h-3zM541 451h4v1h-4zM717 395h1v1h-1zM661 424h4v1h-4zM193 450h4v1h-4zM545 450h4v1h-4zM694 411h1v1h-1zM923 199h5v1h-5zM990 199h3v1h-3zM45 438h14v1h-14zM99 438h16v1h-16zM601 438h4v1h-4zM315 483h8v1h-8zM429 483h4v1h-4zM285 477h4v1h-4zM451 477h2v1h-2zM753 353h1v1h-1zM169 445h4v1h-4zM571 445h6v1h-6zM213 457h3v1h-3zM513 457h4v1h-4zM748 360h1v1h-1zM669 422h4v1h-4zM635 429h6v1h-6zM203 453h2v1h-2zM531 453h6v1h-6zM616 434h3v1h-3zM208 455h3v1h-3zM521 455h4v1h-4zM873 229h1v1h-1zM189 449h4v1h-4zM549 449h6v1h-6zM912 203h2v1h-2zM1003 203h2v1h-2zM862 237h1v1h-1zM788 306h1v1h-1zM185 448h4v1h-4zM555 448h6v1h-6zM939 194h2v1h-2zM980 194h2v1h-2zM886 219h1v1h-1zM1075 219h8v1h-8zM293 479h6v1h-6zM445 479h3v1h-3zM895 213h2v1h-2zM1022 213h2v1h-2zM908 205h2v1h-2zM1007 205h2v1h-2zM333 486h14v1h-14zM411 486h8v1h-8zM768 333h1v1h-1zM289 478h4v1h-4zM448 478h3v1h-3zM702 406h1v1h-1zM251 470h2v1h-2zM469 470h3v1h-3zM277 475h4v1h-4zM456 475h3v1h-3zM690 413h2v1h-2zM783 312h1v1h-1zM835 261h1v1h-1zM725 389h1v1h-1zM173 446h6v1h-6zM565 446h6v1h-6zM686 415h2v1h-2zM914 202h2v1h-2zM1000 202h3v1h-3zM882 222h1v1h-1zM1093 222h4v1h-4zM1139 222h8v1h-8zM1169 222h4v1h-4zM229 463h4v1h-4zM488 463h3v1h-3zM219 459h2v1h-2zM501 459h6v1h-6zM795 299h1v1h-1zM892 215h2v1h-2zM1026 215h2v1h-2zM899 211h1v1h-1zM1018 211h2v1h-2zM870 231h1v1h-1zM305 481h4v1h-4zM437 481h4v1h-4zM905 207h2v1h-2zM1011 207h1v1h-1zM853 245h1v1h-1zM732 382h1v1h-1zM243 467h2v1h-2zM477 467h3v1h-3zM261 473h12v1h-12zM461 473h3v1h-3zM811 284h2v1h-2zM163 444h6v1h-6zM577 444h4v1h-4zM703 405h2v1h-2zM849 248h2v1h-2zM907 206h1v1h-1zM1009 206h2v1h-2zM711 399h2v1h-2zM818 278h1v1h-1zM700 407h2v1h-2zM857 241h2v1h-2zM240 466h3v1h-3zM480 466h3v1h-3zM233 464h4v1h-4zM485 464h3v1h-3zM809 286h1v1h-1zM755 351h1v1h-1zM867 233h2v1h-2zM750 357h1v1h-1zM825 271h1v1h-1zM891 216h1v1h-1zM1028 216h2v1h-2zM933 196h3v1h-3zM984 196h2v1h-2zM903 208h2v1h-2zM1012 208h2v1h-2zM679 419h2v1h-2zM727 387h1v1h-1zM931 197h2v1h-2zM986 197h2v1h-2zM897 212h2v1h-2zM1020 212h2v1h-2zM179 447h6v1h-6zM561 447h4v1h-4zM245 468h3v1h-3zM475 468h2v1h-2zM832 264h1v1h-1zM829 267h1v1h-1zM855 243h1v1h-1zM734 380h1v1h-1zM657 425h4v1h-4zM706 403h1v1h-1zM852 246h1v1h-1zM216 458h3v1h-3zM507 458h6v1h-6zM797 297h1v1h-1zM836 260h1v1h-1zM874 228h1v1h-1zM714 397h1v1h-1zM804 290h1v1h-1zM843 254h1v1h-1zM827 269h1v1h-1zM772 328h1v1h-1zM834 262h1v1h-1zM723 390h2v1h-2zM281 476h4v1h-4zM453 476h3v1h-3zM831 265h1v1h-1zM885 220h1v1h-1zM1083 220h6v1h-6zM787 307h1v1h-1zM41 439h4v1h-4zM115 439h6v1h-6zM597 439h4v1h-4zM736 377h1v1h-1zM760 344h1v1h-1zM697 409h2v1h-2zM709 401h1v1h-1zM838 258h1v1h-1zM865 235h1v1h-1zM900 210h2v1h-2zM1016 210h2v1h-2zM791 303h1v1h-1zM936 195h3v1h-3zM982 195h2v1h-2zM806 288h1v1h-1zM728 386h1v1h-1zM902 209h1v1h-1zM1014 209h2v1h-2zM814 282h1v1h-1zM619 433h2v1h-2zM774 325h1v1h-1zM821 275h1v1h-1zM707 402h2v1h-2zM613 435h3v1h-3zM754 352h1v1h-1zM715 396h2v1h-2zM789 305h1v1h-1zM910 204h2v1h-2zM1005 204h2v1h-2zM871 230h2v1h-2zM726 388h1v1h-1zM860 239h1v1h-1zM828 268h1v1h-1zM742 368h1v1h-1zM840 256h1v1h-1zM894 214h1v1h-1zM1024 214h2v1h-2zM733 381h1v1h-1zM793 301h1v1h-1zM851 247h1v1h-1zM730 384h1v1h-1zM713 398h1v1h-1zM800 294h1v1h-1zM629 430h6v1h-6zM761 343h1v1h-1zM785 310h1v1h-1zM866 234h1v1h-1zM721 392h1v1h-1zM780 316h1v1h-1zM681 418h2v1h-2zM807 287h2v1h-2zM253 471h4v1h-4zM467 471h2v1h-2zM877 226h1v1h-1zM823 273h1v1h-1zM764 339h1v1h-1zM677 420h2v1h-2zM744 365h1v1h-1zM846 251h1v1h-1zM695 410h2v1h-2zM719 393h2v1h-2zM815 281h1v1h-1zM830 266h1v1h-1zM863 236h2v1h-2zM692 412h2v1h-2zM837 259h1v1h-1zM802 292h1v1h-1zM738 374h1v1h-1zM747 361h1v1h-1zM790 304h1v1h-1zM861 238h1v1h-1zM688 414h2v1h-2zM813 283h1v1h-1zM758 347h1v1h-1zM684 416h2v1h-2zM782 313h1v1h-1zM841 255h2v1h-2zM820 276h1v1h-1zM859 240h1v1h-1zM848 249h1v1h-1zM817 279h1v1h-1zM710 400h1v1h-1zM699 408h1v1h-1zM766 336h1v1h-1zM776 322h1v1h-1zM824 272h1v1h-1zM839 257h1v1h-1zM729 385h1v1h-1zM718 394h1v1h-1zM769 332h1v1h-1zM792 302h1v1h-1zM784 311h1v1h-1zM854 244h1v1h-1zM740 371h1v1h-1zM799 295h1v1h-1zM705 404h1v1h-1zM796 298h1v1h-1zM822 274h1v1h-1zM819 277h1v1h-1zM845 252h1v1h-1zM803 291h1v1h-1zM763 340h1v1h-1zM869 232h1v1h-1zM826 270h1v1h-1zM731 383h1v1h-1zM810 285h1v1h-1zM778 319h1v1h-1zM794 300h1v1h-1zM751 356h1v1h-1zM833 263h1v1h-1zM771 329h1v1h-1zM722 391h1v1h-1zM757 348h1v1h-1zM801 293h1v1h-1zM798 296h1v1h-1zM856 242h1v1h-1zM683 417h1v1h-1z"/>
</g>
</g>
<rect x="1212" y="27" width="9" height="1" fill="#c0c0c0"/>
<rect x="1213" y="28" width="7" height="1" fill="#c0c0c0"/>
<rect x="1214" y="29" width="5" height="1" fill="#c0c0c0"/>
<rect x="1215" y="30" width="3" height="1" fill="#c0c0c0"/>
<rect x="1216" y="31" width="1" height="1" fill="#c0c0c0"/>
<g id="rsi">
<path fill="#c0c0c0" d="M7 561h3v1h-3zM13 561h3v1h-3zM19 561h3v1h-3zM25 561h3v1h-3zM31 561h3v1h-3zM37 561h3v1h-3zM43 561h3v1h-3zM49 561h3v1h-3zM55 561h3v1h-3zM61 561h3v1h-3zM67 561h3v1h-3zM73 561h3v1h-3zM79 561h3v1h-3zM85 561h3v1h-3zM91 561h3v1h-3zM97 561h3v1h-3zM103 561h3v1h-3zM109 561h3v1h-3zM115 561h3v1h-3zM121 561h3v1h-3zM127 561h3v1h-3zM133 561h3v1h-3zM139 561h3v1h-3zM145 561h3v1h-3zM151 561h3v1h-3zM157 561h3v1h-3zM163 561h3v1h-3zM169 561h3v1h-3zM175 561h3v1h-3zM181 561h3v1h-3zM187 561h3v1h-3zM193 561h3v1h-3zM199 561h3v1h-3zM205 561h3v1h-3zM211 561h3v1h-3zM217 561h3v1h-3zM223 561h3v1h-3zM229 561h3v1h-3zM235 561h3v1h-3zM241 561h3v1h-3zM247 561h3v1h-3zM253 561h3v1h-3zM259 561h3v1h-3zM265 561h3v1h-3zM271 561h3v1h-3zM277 561h3v1h-3zM283 561h3v1h-3zM289 561h3v1h-3zM295 561h3v1h-3zM301 561h3v1h-3zM307 561h3v1h-3zM313 561h3v1h-3zM319 561h3v1h-3zM325 561h3v1h-3zM331 561h3v1h-3zM337 561h3v1h-3zM343 561h3v1h-3zM349 561h3v1h-3zM355 561h3v1h-3zM361 561h3v1h-3zM367 561h3v1h-3zM373 561h3v1h-3zM379 561h3v1h-3zM385 561h3v1h-3zM391 561h3v1h-3zM397 561h3v1h-3zM403 561h3v1h-3zM409 561h3v1h-3zM415 561h3v1h-3zM421 561h3v1h-3zM427 561h3v1h-3zM433 561h3v1h-3zM439 561h3v1h-3zM445 561h3v1h-3zM451 561h3v1h-3zM457 561h3v1h-3zM463 561h3v1h-3zM469 561h3v1h-3zM475 561h3v1h-3zM481 561h3v1h-3zM487 561h3v1h-3zM493 561h3v1h-3zM499 561h3v1h-3zM505 561h3v1h-3zM511 561h3v1h-3zM517 561h3v1h-3zM523 561h3v1h-3zM529 561h3v1h-3zM535 561h3v1h-3zM541 561h3v1h-3zM547 561h3v1h-3zM553 561h3v1h-3zM559 561h3v1h-3zM565 561h3v1h-3zM571 561h3v1h-3zM577 561h3v1h-3zM583 561h3v1h-3zM589 561h3v1h-3zM595 561h3v1h-3zM601 561h3v1h-3zM607 561h3v1h-3zM613 561h3v1h-3zM619 561h3v1h-3zM625 561h3v1h-3zM631 561h3v1h-3zM637 561h3v1h-3zM643 561h3v1h-3zM649 561h3v1h-3zM655 561h3v1h-3zM661 561h3v1h-3zM667 561h3v1h-3zM673 561h3v1h-3zM679 561h3v1h-3zM685 561h3v1h-3zM691 561h3v1h-3zM697 561h3v1h-3zM703 561h3v1h-3zM709 561h3v1h-3zM715 561h3v1h-3zM721 561h3v1h-3zM727 561h3v1h-3zM733 561h3v1h-3zM739 561h3v1h-3zM745 561h3v1h-3zM751 561h3v1h-3zM757 561h3v1h-3zM763 561h3v1h-3zM769 561h3v1h-3zM775 561h3v1h-3zM781 561h3v1h-3zM787 561h3v1h-3zM793 561h3v1h-3zM799 561h3v1h-3zM805 561h3v1h-3zM811 561h3v1h-3zM817 561h3v1h-3zM823 561h3v1h-3zM829 561h3v1h-3zM835 561h3v1h-3zM841 561h3v1h-3zM847 561h3v1h-3zM853 561h3v1h-3zM859 561h3v1h-3zM865 561h3v1h-3zM871 561h3v1h-3zM877 561h3v1h-3zM883 561h3v1h-3zM889 561h3v1h-3zM895 561h3v1h-3zM901 561h3v1h-3zM907 561h3v1h-3zM913 561h3v1h-3zM919 561h3v1h-3zM925 561h3v1h-3zM931 561h3v1h-3zM937 561h3v1h-3zM943 561h3v1h-3zM949 561h3v1h-3zM955 561h3v1h-3zM961 561h3v1h-3zM967 561h3v1h-3zM973 561h3v1h-3zM979 561h3v1h-3zM985 561h3v1h-3zM991 561h3v1h-3zM997 561h3v1h-3zM1003 561h3v1h-3zM1009 561h3v1h-3zM1015 561h3v1h-3zM1021 561h3v1h-3zM1027 561h3v1h-3zM1033 561h3v1h-3zM1039 561h3v1h-3zM1045 561h3v1h-3zM1051 561h3v1h-3zM1057 561h3v1h-3zM1063 561h3v1h-3zM1069 561h3v1h-3zM1075 561h3v1h-3zM1081 561h3v1h-3zM1087 561h3v1h-3zM1093 561h3v1h-3zM1099 561h3v1h-3zM1105 561h3v1h-3zM1111 561h3v1h-3zM1117 561h3v1h-3zM1123 561h3v1h-3zM1129 561h3v1h-3zM1135 561h3v1h-3zM1141 561h3v1h-3zM1147 561h3v1h-3zM1153 561h3v1h-3zM1159 561h3v1h-3zM1165 561h3v1h-3zM1171 561h3v1h-3zM1177 561h3v1h-3zM1183 561h3v1h-3zM1189 561h3v1h-3zM1195 561h3v1h-3zM1201 561h3v1h-3zM1207 561h3v1h-3zM1213 561h3v1h-3zM1219 561h3v1h-3zM1225 561h3v1h-3zM1231 561h3v1h-3zM1237 561h3v1h-3zM1243 561h3v1h-3zM1249 561h3v1h-3zM1255 561h3v1h-3zM1261 561h3v1h-3zM1267 561h3v1h-3zM1273 561h3v1h-3zM1279 561h3v1h-3zM1285 561h3v1h-3zM1291 561h3v1h-3zM1297 561h3v1h-3zM1303 561h3v1h-3zM1309 561h3v1h-3zM1315 561h3v1h-3zM1321 561h3v1h-3zM1327 561h3v1h-3zM1333 561h3v1h-3zM1339 561h3v1h-3zM1345 561h3v1h-3zM1351 561h3v1h-3zM1357 561h3v1h-3zM1363 561h3v1h-3zM1369 561h3v1h-3zM1375 561h3v1h-3zM1381 561h3v1h-3zM1387 561h3v1h-3zM1393 561h3v1h-3zM1399 561h3v1h-3zM1405 561h3v1h-3zM1411 561h3v1h-3zM1417 561h3v1h-3zM1423 561h3v1h-3zM1429 561h3v1h-3zM1435 561h3v1h-3zM1441 561h3v1h-3zM1447 561h3v1h-3zM1453 561h3v1h-3zM1459 561h3v1h-3zM1465 561h3v1h-3zM1471 561h3v1h-3zM1477 561h3v1h-3zM1483 561h3v1h-3zM1489 561h3v1h-3zM1495 561h3v1h-3zM1501 561h3v1h-3zM1507 561h3v1h-3zM1513 561h3v1h-3zM1519 561h2v1h-2z"/>
<path fill="#c0c0c0" d="M7 597h3v1h-3zM13 597h3v1h-3zM19 597h3v1h-3zM25 597h3v1h-3zM31 597h3v1h-3zM37 597h3v1h-3zM43 597h3v1h-3zM49 597h3v1h-3zM55 597h3v1h-3zM61 597h3v1h-3zM67 597h3v1h-3zM73 597h3v1h-3zM79 597h3v1h-3zM85 597h3v1h-3zM91 597h3v1h-3zM97 597h3v1h-3zM103 597h3v1h-3zM109 597h3v1h-3zM115 597h3v1h-3zM121 597h3v1h-3zM127 597h3v1h-3zM133 597h3v1h-3zM139 597h3v1h-3zM145 597h3v1h-3zM151 597h3v1h-3zM157 597h3v1h-3zM163 597h3v1h-3zM169 597h3v1h-3zM175 597h3v1h-3zM181 597h3v1h-3zM187 597h3v1h-3zM193 597h3v1h-3zM199 597h3v1h-3zM205 597h3v1h-3zM211 597h3v1h-3zM217 597h3v1h-3zM223 597h3v1h-3zM229 597h3v1h-3zM235 597h3v1h-3zM241 597h3v1h-3zM247 597h3v1h-3zM253 597h3v1h-3zM259 597h3v1h-3zM265 597h3v1h-3zM271 597h3v1h-3zM277 597h3v1h-3zM283 597h3v1h-3zM289 597h3v1h-3zM295 597h3v1h-3zM301 597h3v1h-3zM307 597h3v1h-3zM313 597h3v1h-3zM319 597h3v1h-3zM325 597h3v1h-3zM331 597h3v1h-3zM337 597h3v1h-3zM343 597h3v1h-3zM349 597h3v1h-3zM355 597h3v1h-3zM361 597h3v1h-3zM367 597h3v1h-3zM373 597h3v1h-3zM379 597h3v1h-3zM385 597h3v1h-3zM391 597h3v1h-3zM397 597h3v1h-3zM403 597h3v1h-3zM409 597h3v1h-3zM415 597h3v1h-3zM421 597h3v1h-3zM427 597h3v1h-3zM433 597h3v1h-3zM439 597h3v1h-3zM445 597h3v1h-3zM451 597h3v1h-3zM457 597h3v1h-3zM463 597h3v1h-3zM469 597h3v1h-3zM475 597h3v1h-3zM481 597h3v1h-3zM487 597h3v1h-3zM493 597h3v1h-3zM499 597h3v1h-3zM505 597h3v1h-3zM511 597h3v1h-3zM517 597h3v1h-3zM523 597h3v1h-3zM529 597h3v1h-3zM535 597h3v1h-3zM541 597h3v1h-3zM547 597h3v1h-3zM553 597h3v1h-3zM559 597h3v1h-3zM565 597h3v1h-3zM571 597h3v1h-3zM577 597h3v1h-3zM583 597h3v1h-3zM589 597h3v1h-3zM595 597h3v1h-3zM601 597h3v1h-3zM607 597h3v1h-3zM613 597h3v1h-3zM619 597h3v1h-3zM625 597h3v1h-3zM631 597h3v1h-3zM637 597h3v1h-3zM643 597h3v1h-3zM649 597h3v1h-3zM655 597h3v1h-3zM661 597h3v1h-3zM667 597h3v1h-3zM673 597h3v1h-3zM679 597h3v1h-3zM685 597h3v1h-3zM691 597h3v1h-3zM697 597h3v1h-3zM703 597h3v1h-3zM709 597h3v1h-3zM715 597h3v1h-3zM721 597h3v1h-3zM727 597h3v1h-3zM733 597h3v1h-3zM739 597h3v1h-3zM745 597h3v1h-3zM751 597h3v1h-3zM757 597h3v1h-3zM763 597h3v1h-3zM769 597h3v1h-3zM775 597h3v1h-3zM781 597h3v1h-3zM787 597h3v1h-3zM793 597h3v1h-3zM799 597h3v1h-3zM805 597h3v1h-3zM811 597h3v1h-3zM817 597h3v1h-3zM823 597h3v1h-3zM829 597h3v1h-3zM835 597h3v1h-3zM841 597h3v1h-3zM847 597h3v1h-3zM853 597h3v1h-3zM859 597h3v1h-3zM865 597h3v1h-3zM871 597h3v1h-3zM877 597h3v1h-3zM883 597h3v1h-3zM889 597h3v1h-3zM895 597h3v1h-3zM901 597h3v1h-3zM907 597h3v1h-3zM913 597h3v1h-3zM919 597h3v1h-3zM925 597h3v1h-3zM931 597h3v1h-3zM937 597h3v1h-3zM943 597h3v1h-3zM949 597h3v1h-3zM955 597h3v1h-3zM961 597h3v1h-3zM967 597h3v1h-3zM973 597h3v1h-3zM979 597h3v1h-3zM985 597h3v1h-3zM991 597h3v1h-3zM997 597h3v1h-3zM1003 597h3v1h-3zM1009 597h3v1h-3zM1015 597h3v1h-3zM1021 597h3v1h-3zM1027 597h3v1h-3zM1033 597h3v1h-3zM1039 597h3v1h-3zM1045 597h3v1h-3zM1051 597h3v1h-3zM1057 597h3v1h-3zM1063 597h3v1h-3zM1069 597h3v1h-3zM1075 597h3v1h-3zM1081 597h3v1h-3zM1087 597h3v1h-3zM1093 597h3v1h-3zM1099 597h3v1h-3zM1105 597h3v1h-3zM1111 597h3v1h-3zM1117 597h3v1h-3zM1123 597h3v1h-3zM1129 597h3v1h-3zM1135 597h3v1h-3zM1141 597h3v1h-3zM1147 597h3v1h-3zM1153 597h3v1h-3zM1159 597h3v1h-3zM1165 597h3v1h-3zM1171 597h3v1h-3zM1177 597h3v1h-3zM1183 597h3v1h-3zM1189 597h3v1h-3zM1195 597h3v1h-3zM1201 597h3v1h-3zM1207 597h3v1h-3zM1213 597h3v1h-3zM1219 597h3v1h-3zM1225 597h3v1h-3zM1231 597h3v1h-3zM1237 597h3v1h-3zM1243 597h3v1h-3zM1249 597h3v1h-3zM1255 597h3v1h-3zM1261 597h3v1h-3zM1267 597h3v1h-3zM1273 597h3v1h-3zM1279 597h3v1h-3zM1285 597h3v1h-3zM1291 597h3v1h-3zM1297 597h3v1h-3zM1303 597h3v1h-3zM1309 597h3v1h-3zM1315 597h3v1h-3zM1321 597h3v1h-3zM1327 597h3v1h-3zM1333 597h3v1h-3zM1339 597h3v1h-3zM1345 597h3v1h-3zM1351 597h3v1h-3zM1357 597h3v1h-3zM1363 597h3v1h-3zM1369 597h3v1h-3zM1375 597h3v1h-3zM1381 597h3v1h-3zM1387 597h3v1h-3zM1393 597h3v1h-3zM1399 597h3v1h-3zM1405 597h3v1h-3zM1411 597h3v1h-3zM1417 597h3v1h-3zM1423 597h3v1h-3zM1429 597h3v1h-3zM1435 597h3v1h-3zM1441 597h3v1h-3zM1447 597h3v1h-3zM1453 597h3v1h-3zM1459 597h3v1h-3zM1465 597h3v1h-3zM1471 597h3v1h-3zM1477 597h3v1h-3zM1483 597h3v1h-3zM1489 597h3v1h-3zM1495 597h3v1h-3zM1501 597h3v1h-3zM1507 597h3v1h-3zM1513 597h3v1h-3zM1519 597h2v1h-2z"/>
<path fill="#1e90ff" d="M264 585h1v2h-1zM31 587h1v2h-1zM498 565h1v2h-1zM577 578h1v2h-1zM268 580h1v2h-1zM579 575h1v2h-1zM35 581h1v2h-1zM791 564h1v2h-1zM792 566h1v2h-1zM20 579h1v2h-1zM794 569h1v2h-1zM682 551h1v2h-1zM796 572h1v2h-1zM252 593h1v2h-1zM575 581h1v2h-1zM16 573h1v2h-1zM581 572h1v2h-1zM1040 583h1v2h-1zM37 578h1v2h-1zM33 584h1v2h-1zM15 571h1v2h-1zM18 576h1v2h-1zM930 579h1v2h-1zM797 574h1v2h-1zM354 576h1v2h-1zM248 598h1v2h-1zM1044 578h1v2h-1zM21 581h1v2h-1zM36 580h1v1h-1zM50 580h2v1h-2zM273 580h1v1h-1zM351 580h1v1h-1zM568 580h2v1h-2zM576 580h1v1h-1zM814 580h1v1h-1zM876 580h2v1h-2zM883 580h8v1h-8zM990 580h2v1h-2zM1013 580h4v1h-4zM1043 580h1v1h-1zM1069 580h2v1h-2zM1083 580h1v1h-1zM1108 580h2v1h-2zM1115 580h5v1h-5zM1155 580h1v1h-1zM1188 580h2v1h-2zM1195 580h12v1h-12zM22 583h1v1h-1zM34 583h1v1h-1zM67 583h2v1h-2zM266 583h1v1h-1zM277 583h1v1h-1zM283 583h8v1h-8zM297 583h4v1h-4zM305 583h4v1h-4zM325 583h4v1h-4zM574 583h1v1h-1zM921 583h4v1h-4zM927 583h1v1h-1zM1024 583h3v1h-3zM1086 583h3v1h-3zM1103 583h2v1h-2zM1158 583h2v1h-2zM1181 583h3v1h-3zM403 563h2v1h-2zM496 563h1v1h-1zM601 563h2v1h-2zM630 563h1v1h-1zM661 563h10v1h-10zM790 563h1v1h-1zM27 587h2v1h-2zM77 587h4v1h-4zM93 587h3v1h-3zM132 587h1v1h-1zM157 587h4v1h-4zM169 587h1v1h-1zM263 587h1v1h-1zM1166 587h3v1h-3zM427 559h5v1h-5zM492 559h1v1h-1zM606 559h2v1h-2zM622 559h2v1h-2zM675 559h1v1h-1zM786 559h1v1h-1zM550 576h3v1h-3zM798 576h5v1h-5zM807 576h2v1h-2zM819 576h1v1h-1zM846 576h5v1h-5zM869 576h2v1h-2zM933 576h1v1h-1zM945 576h2v1h-2zM967 576h2v1h-2zM983 576h2v1h-2zM1046 576h3v1h-3zM1076 576h2v1h-2zM1079 576h1v1h-1zM1126 576h5v1h-5zM1139 576h12v1h-12zM400 564h3v1h-3zM497 564h1v1h-1zM600 564h1v1h-1zM631 564h1v1h-1zM657 564h4v1h-4zM52 581h2v1h-2zM59 581h5v1h-5zM274 581h1v1h-1zM333 581h6v1h-6zM347 581h4v1h-4zM570 581h2v1h-2zM878 581h5v1h-5zM891 581h8v1h-8zM929 581h1v1h-1zM1017 581h4v1h-4zM1042 581h1v1h-1zM1084 581h1v1h-1zM1107 581h1v1h-1zM1156 581h1v1h-1zM1186 581h2v1h-2zM19 578h1v1h-1zM43 578h5v1h-5zM270 578h1v1h-1zM353 578h1v1h-1zM557 578h6v1h-6zM811 578h1v1h-1zM816 578h1v1h-1zM873 578h2v1h-2zM931 578h1v1h-1zM948 578h2v1h-2zM961 578h4v1h-4zM987 578h1v1h-1zM995 578h2v1h-2zM1008 578h3v1h-3zM1053 578h6v1h-6zM1064 578h3v1h-3zM1073 578h2v1h-2zM1081 578h1v1h-1zM1122 578h2v1h-2zM1152 578h1v1h-1zM709 546h2v1h-2zM736 546h3v1h-3zM746 546h2v1h-2zM23 584h2v1h-2zM69 584h3v1h-3zM147 584h5v1h-5zM265 584h1v1h-1zM278 584h5v1h-5zM291 584h6v1h-6zM309 584h6v1h-6zM321 584h4v1h-4zM925 584h2v1h-2zM1027 584h2v1h-2zM1089 584h4v1h-4zM1099 584h4v1h-4zM1160 584h2v1h-2zM1177 584h4v1h-4zM26 586h1v1h-1zM32 586h1v1h-1zM75 586h2v1h-2zM81 586h4v1h-4zM89 586h4v1h-4zM133 586h1v1h-1zM155 586h2v1h-2zM161 586h4v1h-4zM167 586h2v1h-2zM1035 586h4v1h-4zM1164 586h2v1h-2zM1169 586h4v1h-4zM206 604h2v1h-2zM48 579h2v1h-2zM269 579h1v1h-1zM271 579h2v1h-2zM352 579h1v1h-1zM563 579h5v1h-5zM812 579h2v1h-2zM815 579h1v1h-1zM875 579h1v1h-1zM950 579h11v1h-11zM988 579h2v1h-2zM992 579h3v1h-3zM1011 579h2v1h-2zM1067 579h2v1h-2zM1071 579h2v1h-2zM1082 579h1v1h-1zM1110 579h5v1h-5zM1120 579h2v1h-2zM1153 579h2v1h-2zM1190 579h5v1h-5zM189 596h4v1h-4zM250 596h1v1h-1zM54 582h5v1h-5zM64 582h3v1h-3zM267 582h1v1h-1zM275 582h2v1h-2zM301 582h4v1h-4zM329 582h4v1h-4zM339 582h8v1h-8zM572 582h2v1h-2zM899 582h22v1h-22zM928 582h1v1h-1zM1021 582h3v1h-3zM1041 582h1v1h-1zM1085 582h1v1h-1zM1105 582h2v1h-2zM1157 582h1v1h-1zM1184 582h2v1h-2zM29 588h1v1h-1zM96 588h2v1h-2zM131 588h1v1h-1zM170 588h1v1h-1zM261 588h2v1h-2zM443 555h8v1h-8zM477 555h4v1h-4zM488 555h1v1h-1zM614 555h2v1h-2zM679 555h1v1h-1zM781 555h2v1h-2zM451 554h16v1h-16zM473 554h4v1h-4zM481 554h4v1h-4zM487 554h1v1h-1zM680 554h1v1h-1zM758 554h5v1h-5zM779 554h2v1h-2zM390 565h10v1h-10zM599 565h1v1h-1zM632 565h1v1h-1zM646 565h11v1h-11zM102 591h5v1h-5zM111 591h2v1h-2zM127 591h1v1h-1zM174 591h2v1h-2zM254 591h2v1h-2zM435 557h2v1h-2zM490 557h1v1h-1zM610 557h2v1h-2zM618 557h2v1h-2zM677 557h1v1h-1zM784 557h1v1h-1zM432 558h3v1h-3zM491 558h1v1h-1zM608 558h2v1h-2zM620 558h2v1h-2zM676 558h1v1h-1zM785 558h1v1h-1zM684 549h1v1h-1zM690 549h2v1h-2zM699 549h2v1h-2zM714 549h1v1h-1zM730 549h2v1h-2zM751 549h2v1h-2zM686 547h2v1h-2zM705 547h4v1h-4zM711 547h2v1h-2zM734 547h2v1h-2zM748 547h2v1h-2zM25 585h1v1h-1zM72 585h3v1h-3zM85 585h4v1h-4zM134 585h13v1h-13zM152 585h3v1h-3zM165 585h2v1h-2zM315 585h6v1h-6zM1029 585h6v1h-6zM1039 585h1v1h-1zM1093 585h6v1h-6zM1162 585h2v1h-2zM1173 585h4v1h-4zM113 592h2v1h-2zM125 592h2v1h-2zM176 592h3v1h-3zM253 592h1v1h-1zM413 560h14v1h-14zM493 560h1v1h-1zM605 560h1v1h-1zM624 560h2v1h-2zM673 560h2v1h-2zM787 560h1v1h-1zM683 550h1v1h-1zM692 550h2v1h-2zM696 550h3v1h-3zM715 550h2v1h-2zM728 550h2v1h-2zM753 550h1v1h-1zM739 545h2v1h-2zM744 545h2v1h-2zM360 571h3v1h-3zM507 571h8v1h-8zM521 571h4v1h-4zM582 571h2v1h-2zM638 571h1v1h-1zM795 571h1v1h-1zM6 567h2v1h-2zM387 567h1v1h-1zM499 567h1v1h-1zM593 567h4v1h-4zM634 567h1v1h-1zM643 567h2v1h-2zM203 602h2v1h-2zM211 602h2v1h-2zM219 602h8v1h-8zM17 575h1v1h-1zM355 575h1v1h-1zM533 575h3v1h-3zM548 575h2v1h-2zM803 575h4v1h-4zM820 575h1v1h-1zM829 575h3v1h-3zM844 575h2v1h-2zM851 575h8v1h-8zM865 575h4v1h-4zM934 575h5v1h-5zM943 575h2v1h-2zM969 575h2v1h-2zM981 575h2v1h-2zM1078 575h1v1h-1zM467 553h6v1h-6zM485 553h2v1h-2zM681 553h1v1h-1zM757 553h1v1h-1zM763 553h8v1h-8zM776 553h3v1h-3zM193 597h4v1h-4zM249 597h1v1h-1zM116 594h2v1h-2zM120 594h3v1h-3zM181 594h4v1h-4zM388 566h2v1h-2zM597 566h2v1h-2zM633 566h1v1h-1zM645 566h1v1h-1zM11 569h2v1h-2zM365 569h6v1h-6zM383 569h2v1h-2zM501 569h1v1h-1zM587 569h2v1h-2zM636 569h1v1h-1zM641 569h1v1h-1zM405 562h4v1h-4zM495 562h1v1h-1zM603 562h1v1h-1zM628 562h2v1h-2zM671 562h1v1h-1zM789 562h1v1h-1zM38 577h5v1h-5zM553 577h4v1h-4zM578 577h1v1h-1zM809 577h2v1h-2zM817 577h2v1h-2zM871 577h2v1h-2zM932 577h1v1h-1zM947 577h1v1h-1zM965 577h2v1h-2zM985 577h2v1h-2zM997 577h11v1h-11zM1045 577h1v1h-1zM1049 577h4v1h-4zM1059 577h5v1h-5zM1075 577h1v1h-1zM1080 577h1v1h-1zM1124 577h2v1h-2zM1131 577h8v1h-8zM1151 577h1v1h-1zM30 589h1v1h-1zM98 589h2v1h-2zM129 589h2v1h-2zM171 589h2v1h-2zM259 589h2v1h-2zM202 601h1v1h-1zM213 601h6v1h-6zM227 601h8v1h-8zM243 601h4v1h-4zM8 568h3v1h-3zM385 568h2v1h-2zM500 568h1v1h-1zM589 568h4v1h-4zM635 568h1v1h-1zM642 568h1v1h-1zM793 568h1v1h-1zM437 556h6v1h-6zM489 556h1v1h-1zM612 556h2v1h-2zM616 556h2v1h-2zM678 556h1v1h-1zM783 556h1v1h-1zM718 552h5v1h-5zM755 552h2v1h-2zM771 552h5v1h-5zM356 574h1v1h-1zM531 574h2v1h-2zM536 574h3v1h-3zM546 574h2v1h-2zM580 574h1v1h-1zM821 574h1v1h-1zM825 574h4v1h-4zM832 574h3v1h-3zM842 574h2v1h-2zM859 574h6v1h-6zM939 574h4v1h-4zM971 574h1v1h-1zM979 574h2v1h-2zM357 573h1v1h-1zM528 573h3v1h-3zM539 573h2v1h-2zM544 573h2v1h-2zM822 573h3v1h-3zM835 573h2v1h-2zM840 573h2v1h-2zM972 573h2v1h-2zM976 573h3v1h-3zM694 551h2v1h-2zM717 551h1v1h-1zM723 551h5v1h-5zM754 551h1v1h-1zM13 570h2v1h-2zM363 570h2v1h-2zM371 570h12v1h-12zM502 570h5v1h-5zM515 570h6v1h-6zM584 570h3v1h-3zM637 570h1v1h-1zM639 570h2v1h-2zM409 561h4v1h-4zM494 561h1v1h-1zM604 561h1v1h-1zM626 561h2v1h-2zM672 561h1v1h-1zM788 561h1v1h-1zM201 600h1v1h-1zM235 600h8v1h-8zM247 600h1v1h-1zM118 595h2v1h-2zM185 595h4v1h-4zM251 595h1v1h-1zM100 590h2v1h-2zM107 590h4v1h-4zM128 590h1v1h-1zM173 590h1v1h-1zM256 590h3v1h-3zM358 572h2v1h-2zM525 572h3v1h-3zM541 572h3v1h-3zM837 572h3v1h-3zM974 572h2v1h-2zM199 599h2v1h-2zM205 603h1v1h-1zM208 603h3v1h-3zM685 548h1v1h-1zM688 548h2v1h-2zM701 548h4v1h-4zM713 548h1v1h-1zM732 548h2v1h-2zM750 548h1v1h-1zM115 593h1v1h-1zM123 593h2v1h-2zM179 593h2v1h-2zM197 598h2v1h-2zM741 544h3v1h-3z"/>
</g>
<g id="macd">
<path fill="#c0c0c0" d="M6 695h1v7h-1zM14 695h1v7h-1zM22 697h1v5h-1zM30 699h1v3h-1zM38 699h1v3h-1zM46 699h1v3h-1zM54 700h1v2h-1zM62 700h1v2h-1zM70 701h1v1h-1zM78 701h1v1h-1zM86 701h1v1h-1zM94 701h1v1h-1zM102 701h1v3h-1zM110 701h1v3h-1zM118 701h1v5h-1zM126 701h1v5h-1zM134 701h1v5h-1zM142 701h1v5h-1zM150 701h1v4h-1zM158 701h1v4h-1zM166 701h1v4h-1zM174 701h1v6h-1zM182 701h1v6h-1zM190 701h1v7h-1zM198 701h1v8h-1zM206 701h1v10h-1zM214 701h1v11h-1zM222 701h1v12h-1zM230 701h1v13h-1zM238 701h1v13h-1zM246 701h1v13h-1zM254 701h1v13h-1zM262 701h1v12h-1zM270 701h1v10h-1zM278 701h1v9h-1zM286 701h1v8h-1zM294 701h1v7h-1zM302 701h1v6h-1zM310 701h1v6h-1zM318 701h1v5h-1zM326 701h1v5h-1zM334 701h1v4h-1zM342 701h1v4h-1zM350 701h1v3h-1zM358 701h1v2h-1zM366 701h1v1h-1zM374 701h1v1h-1zM382 700h1v2h-1zM390 699h1v3h-1zM398 698h1v4h-1zM406 696h1v6h-1zM414 695h1v7h-1zM422 694h1v8h-1zM430 693h1v9h-1zM438 692h1v10h-1zM446 691h1v11h-1zM454 690h1v12h-1zM462 690h1v12h-1zM470 689h1v13h-1zM478 689h1v13h-1zM486 689h1v13h-1zM494 690h1v12h-1zM502 690h1v12h-1zM510 691h1v11h-1zM518 692h1v10h-1zM526 693h1v9h-1zM534 694h1v8h-1zM542 694h1v8h-1zM550 695h1v7h-1zM558 696h1v6h-1zM566 697h1v5h-1zM574 698h1v4h-1zM582 698h1v4h-1zM590 697h1v5h-1zM598 697h1v5h-1zM606 695h1v7h-1zM614 693h1v9h-1zM622 692h1v10h-1zM630 691h1v11h-1zM638 692h1v10h-1zM646 691h1v11h-1zM654 691h1v11h-1zM662 690h1v12h-1zM670 690h1v12h-1zM678 688h1v14h-1zM686 682h1v20h-1zM694 678h1v24h-1zM702 674h1v28h-1zM710 668h1v34h-1zM718 665h1v37h-1zM726 662h1v40h-1zM734 657h1v45h-1zM742 647h1v55h-1zM750 641h1v61h-1zM758 639h1v63h-1zM766 637h1v65h-1zM774 634h1v68h-1zM782 634h1v68h-1zM790 637h1v65h-1zM798 645h1v57h-1zM806 651h1v51h-1zM814 659h1v43h-1zM822 662h1v40h-1zM830 666h1v36h-1zM838 667h1v35h-1zM846 670h1v32h-1zM854 673h1v29h-1zM862 675h1v27h-1zM870 677h1v25h-1zM878 682h1v20h-1zM886 686h1v16h-1zM894 689h1v13h-1zM902 692h1v10h-1zM910 695h1v7h-1zM918 697h1v5h-1zM926 699h1v3h-1zM934 698h1v4h-1zM942 696h1v6h-1zM950 697h1v5h-1zM958 698h1v4h-1zM966 698h1v4h-1zM974 695h1v7h-1zM982 694h1v8h-1zM990 697h1v5h-1zM998 696h1v6h-1zM1006 696h1v6h-1zM1014 697h1v5h-1zM1022 699h1v3h-1zM1030 701h1v1h-1zM1038 701h1v1h-1zM1046 701h1v1h-1zM1054 701h1v1h-1zM1062 700h1v2h-1zM1070 701h1v1h-1zM1078 699h1v3h-1zM1086 700h1v2h-1zM1094 701h1v1h-1zM1102 701h1v3h-1zM1110 701h1v2h-1zM1118 701h1v2h-1zM1126 701h1v1h-1zM1134 701h1v1h-1zM1142 700h1v2h-1zM1150 699h1v3h-1zM1158 701h1v1h-1zM1166 701h1v2h-1zM1174 701h1v4h-1zM1182 701h1v4h-1zM1190 701h1v3h-1zM1198 701h1v3h-1zM1206 701h1v3h-1z"/>
<path fill="#f00" d="M6 694h3v1h-3zM12 694h3v1h-3zM18 694h1v1h-1zM444 694h3v1h-3zM450 694h1v1h-1zM582 694h3v1h-3zM630 694h3v1h-3zM636 694h3v1h-3zM642 694h1v1h-1zM954 694h3v1h-3zM19 695h2v1h-2zM24 695h3v1h-3zM30 695h3v1h-3zM36 695h3v1h-3zM42 695h1v1h-1zM438 695h3v1h-3zM588 695h3v1h-3zM594 695h3v1h-3zM600 695h3v1h-3zM606 695h3v1h-3zM612 695h3v1h-3zM618 695h3v1h-3zM624 695h3v1h-3zM960 695h3v1h-3zM996 695h3v1h-3zM1002 695h3v1h-3zM1008 695h3v1h-3zM1014 695h3v1h-3zM156 705h3v1h-3zM162 705h3v1h-3zM168 705h3v1h-3zM366 705h3v1h-3zM78 698h3v1h-3zM84 698h3v1h-3zM90 698h1v1h-1zM420 698h3v1h-3zM1051 698h2v1h-2zM1056 698h3v1h-3zM1062 698h3v1h-3zM740 669h1v1h-1zM877 669h2v1h-2zM708 684h1v1h-1zM918 684h2v1h-2zM139 704h2v1h-2zM144 704h3v1h-3zM150 704h3v1h-3zM372 704h3v1h-3zM378 704h1v1h-1zM774 649h2v1h-2zM836 649h1v1h-1zM782 645h1v1h-1zM828 645h1v1h-1zM91 699h2v1h-2zM96 699h3v1h-3zM414 699h3v1h-3zM1068 699h3v1h-3zM1074 699h3v1h-3zM1080 699h3v1h-3zM1086 699h3v1h-3zM174 706h3v1h-3zM180 706h3v1h-3zM186 706h3v1h-3zM192 706h3v1h-3zM198 706h3v1h-3zM348 706h3v1h-3zM354 706h3v1h-3zM360 706h3v1h-3zM780 646h2v1h-2zM829 646h2v1h-2zM115 701h2v1h-2zM120 701h3v1h-3zM396 701h3v1h-3zM402 701h1v1h-1zM1116 701h3v1h-3zM1122 701h3v1h-3zM1128 701h3v1h-3zM1134 701h3v1h-3zM1140 701h3v1h-3zM1146 701h3v1h-3zM1152 701h3v1h-3zM1158 701h3v1h-3zM1164 701h3v1h-3zM1170 701h3v1h-3zM1176 701h3v1h-3zM235 711h2v1h-2zM240 711h3v1h-3zM246 711h3v1h-3zM300 711h3v1h-3zM306 711h1v1h-1zM126 702h3v1h-3zM390 702h3v1h-3zM1182 702h3v1h-3zM1188 702h3v1h-3zM1194 702h3v1h-3zM1200 702h3v1h-3zM1206 702h1v1h-1zM492 689h3v1h-3zM498 689h3v1h-3zM504 689h3v1h-3zM510 689h3v1h-3zM516 689h3v1h-3zM522 689h3v1h-3zM528 689h3v1h-3zM684 689h3v1h-3zM931 689h2v1h-2zM222 709h3v1h-3zM318 709h3v1h-3zM324 709h3v1h-3zM330 709h1v1h-1zM486 690h3v1h-3zM534 690h3v1h-3zM540 690h3v1h-3zM546 690h1v1h-1zM678 690h3v1h-3zM936 690h1v1h-1zM102 700h3v1h-3zM108 700h3v1h-3zM114 700h1v1h-1zM403 700h2v1h-2zM408 700h3v1h-3zM1092 700h3v1h-3zM1098 700h3v1h-3zM1104 700h3v1h-3zM1110 700h3v1h-3zM462 692h3v1h-3zM558 692h3v1h-3zM654 692h3v1h-3zM660 692h3v1h-3zM666 692h1v1h-1zM942 692h3v1h-3zM468 691h3v1h-3zM474 691h3v1h-3zM480 691h3v1h-3zM547 691h2v1h-2zM552 691h3v1h-3zM667 691h2v1h-2zM672 691h3v1h-3zM937 691h2v1h-2zM764 654h1v1h-1zM846 654h2v1h-2zM259 713h2v1h-2zM264 713h3v1h-3zM270 713h3v1h-3zM276 713h3v1h-3zM282 713h1v1h-1zM734 673h1v1h-1zM888 673h3v1h-3zM690 688h3v1h-3zM930 688h1v1h-1zM43 696h2v1h-2zM48 696h3v1h-3zM54 696h3v1h-3zM60 696h3v1h-3zM66 696h1v1h-1zM432 696h3v1h-3zM966 696h3v1h-3zM972 696h3v1h-3zM978 696h3v1h-3zM984 696h3v1h-3zM990 696h3v1h-3zM1020 696h3v1h-3zM1026 696h3v1h-3zM1032 696h3v1h-3zM1038 696h3v1h-3zM798 640h3v1h-3zM804 640h3v1h-3zM810 640h1v1h-1zM67 697h2v1h-2zM72 697h3v1h-3zM426 697h3v1h-3zM1044 697h3v1h-3zM1050 697h1v1h-1zM211 708h2v1h-2zM216 708h3v1h-3zM331 708h2v1h-2zM336 708h3v1h-3zM738 671h1v1h-1zM883 671h2v1h-2zM204 707h3v1h-3zM210 707h1v1h-1zM342 707h3v1h-3zM763 655h1v1h-1zM848 655h1v1h-1zM132 703h3v1h-3zM138 703h1v1h-1zM379 703h2v1h-2zM384 703h3v1h-3zM451 693h2v1h-2zM456 693h3v1h-3zM564 693h3v1h-3zM570 693h3v1h-3zM576 693h3v1h-3zM643 693h2v1h-2zM648 693h3v1h-3zM948 693h3v1h-3zM793 641h2v1h-2zM811 641h2v1h-2zM816 641h1v1h-1zM894 675h2v1h-2zM776 648h1v1h-1zM834 648h2v1h-2zM728 676h1v1h-1zM896 676h1v1h-1zM720 679h3v1h-3zM906 679h1v1h-1zM702 685h3v1h-3zM920 685h1v1h-1zM739 670h1v1h-1zM882 670h1v1h-1zM751 662h2v1h-2zM709 683h2v1h-2zM901 678h2v1h-2zM228 710h3v1h-3zM234 710h1v1h-1zM307 710h2v1h-2zM312 710h3v1h-3zM715 681h2v1h-2zM697 686h2v1h-2zM924 686h1v1h-1zM252 712h3v1h-3zM258 712h1v1h-1zM283 712h2v1h-2zM288 712h3v1h-3zM294 712h3v1h-3zM726 677h2v1h-2zM900 677h1v1h-1zM714 682h1v1h-1zM912 682h3v1h-3zM770 651h1v1h-1zM840 651h2v1h-2zM762 656h1v1h-1zM745 666h2v1h-2zM870 666h2v1h-2zM744 667h1v1h-1zM872 667h1v1h-1zM750 663h1v1h-1zM864 663h2v1h-2zM858 660h2v1h-2zM860 661h1v1h-1zM852 657h2v1h-2zM787 643h2v1h-2zM822 643h2v1h-2zM792 642h1v1h-1zM817 642h2v1h-2zM907 680h2v1h-2zM768 652h2v1h-2zM842 652h1v1h-1zM732 674h2v1h-2zM756 659h2v1h-2zM758 658h1v1h-1zM854 658h1v1h-1zM696 687h1v1h-1zM925 687h2v1h-2zM786 644h1v1h-1zM824 644h1v1h-1zM876 668h1v1h-1zM866 664h1v1h-1z"/>
</g>
<g id="frames">
<rect x="5" y="26" width="1" height="694" fill="#000"/>
<rect x="1521" y="26" width="1" height="694" fill="#000"/>
<rect x="5" y="26" width="1517" height="1" fill="#000"/>
<rect x="5" y="531" width="1517" height="1" fill="#000"/>
<rect x="5" y="533" width="1517" height="1" fill="#000"/>
<rect x="5" y="625" width="1517" height="1" fill="#000"/>
<rect x="5" y="627" width="1517" height="1" fill="#000"/>
<rect x="5" y="719" width="1517" height="1" fill="#000"/>
<rect x="5" y="532" width="1517" height="1" fill="#fff"/>
<rect x="5" y="626" width="1517" height="1" fill="#fff"/>
</g>
<g id="hlines">
<rect x="6" y="50" width="1516" height="2" fill="#f00"/>
<rect x="5" y="48" width="6" height="6" fill="#f00"/>
<rect x="7" y="50" width="2" height="2" fill="#fff"/>
<rect x="1515" y="48" width="6" height="6" fill="#f00"/>
<rect x="1517" y="50" width="2" height="2" fill="#fff"/>
<rect x="6" y="129" width="1516" height="2" fill="#f00"/>
<rect x="5" y="127" width="6" height="6" fill="#f00"/>
<rect x="7" y="129" width="2" height="2" fill="#fff"/>
<rect x="1515" y="127" width="6" height="6" fill="#f00"/>
<rect x="1517" y="129" width="2" height="2" fill="#fff"/>
<rect x="6" y="204" width="1516" height="2" fill="#0f0"/>
<rect x="5" y="202" width="6" height="6" fill="#0f0"/>
<rect x="7" y="204" width="2" height="2" fill="#fff"/>
<rect x="1515" y="202" width="6" height="6" fill="#0f0"/>
<rect x="1517" y="204" width="2" height="2" fill="#fff"/>
<rect x="6" y="274" width="1516" height="2" fill="#00f"/>
<rect x="5" y="272" width="6" height="6" fill="#00f"/>
<rect x="7" y="274" width="2" height="2" fill="#fff"/>
<rect x="1515" y="272" width="6" height="6" fill="#00f"/>
<rect x="1517" y="274" width="2" height="2" fill="#fff"/>
<rect x="6" y="340" width="1516" height="2" fill="#00f"/>
<rect x="5" y="338" width="6" height="6" fill="#00f"/>
<rect x="7" y="340" width="2" height="2" fill="#fff"/>
<rect x="1515" y="338" width="6" height="6" fill="#00f"/>
<rect x="1517" y="340" width="2" height="2" fill="#fff"/>
<rect x="6" y="422" width="1516" height="2" fill="#00f"/>
<rect x="5" y="420" width="6" height="6" fill="#00f"/>
<rect x="7" y="422" width="2" height="2" fill="#fff"/>
<rect x="1515" y="420" width="6" height="6" fill="#00f"/>
<rect x="1517" y="422" width="2" height="2" fill="#fff"/>
</g>
<g id="paxis">
<rect x="1522" y="33" width="2" height="1" fill="#000"/>
<text x="1527.5" y="37" font-size="10" fill="#000" stroke="#000" stroke-width="0.3" textLength="32.3" lengthAdjust="spacingAndGlyphs">1.47340</text>
<rect x="1522" y="66" width="2" height="1" fill="#000"/>
<text x="1527.5" y="70" font-size="10" fill="#000" stroke="#000" stroke-width="0.3" textLength="32.3" lengthAdjust="spacingAndGlyphs">1.46115</text>
<rect x="1522" y="99" width="2" height="1" fill="#000"/>
<text x="1527.5" y="103" font-size="10" fill="#000" stroke="#000" stroke-width="0.3" textLength="32.3" lengthAdjust="spacingAndGlyphs">1.44890</text>
<rect x="1522" y="132" width="2" height="1" fill="#000"/>
<text x="1527.5" y="136" font-size="10" fill="#000" stroke="#000" stroke-width="0.3" textLength="32.3" lengthAdjust="spacingAndGlyphs">1.43665</text>
<rect x="1522" y="165" width="2" height="1" fill="#000"/>
<text x="1527.5" y="169" font-size="10" fill="#000" stroke="#000" stroke-width="0.3" textLength="32.3" lengthAdjust="spacingAndGlyphs">1.42475</text>
<rect x="1522" y="198" width="2" height="1" fill="#000"/>
<text x="1527.5" y="202" font-size="10" fill="#000" stroke="#000" stroke-width="0.3" textLength="32.3" lengthAdjust="spacingAndGlyphs">1.41285</text>
<rect x="1522" y="231" width="2" height="1" fill="#000"/>
<text x="1527.5" y="235" font-size="10" fill="#000" stroke="#000" stroke-width="0.3" textLength="32.3" lengthAdjust="spacingAndGlyphs">1.40060</text>
<rect x="1522" y="264" width="2" height="1" fill="#000"/>
<text x="1527.5" y="268" font-size="10" fill="#000" stroke="#000" stroke-width="0.3" textLength="32.3" lengthAdjust="spacingAndGlyphs">1.38835</text>
<rect x="1522" y="297" width="2" height="1" fill="#000"/>
<text x="1527.5" y="301" font-size="10" fill="#000" stroke="#000" stroke-width="0.3" textLength="32.3" lengthAdjust="spacingAndGlyphs">1.37645</text>
<rect x="1522" y="330" width="2" height="1" fill="#000"/>
<text x="1527.5" y="334" font-size="10" fill="#000" stroke="#000" stroke-width="0.3" textLength="32.3" lengthAdjust="spacingAndGlyphs">1.36420</text>
<rect x="1522" y="363" width="2" height="1" fill="#000"/>
<text x="1527.5" y="367" font-size="10" fill="#000" stroke="#000" stroke-width="0.3" textLength="32.3" lengthAdjust="spacingAndGlyphs">1.35230</text>
<rect x="1522" y="396" width="2" height="1" fill="#000"/>
<text x="1527.5" y="400" font-size="10" fill="#000" stroke="#000" stroke-width="0.3" textLength="32.3" lengthAdjust="spacingAndGlyphs">1.34005</text>
<rect x="1522" y="429" width="2" height="1" fill="#000"/>
<text x="1527.5" y="433" font-size="10" fill="#000" stroke="#000" stroke-width="0.3" textLength="32.3" lengthAdjust="spacingAndGlyphs">1.32780</text>
<rect x="1522" y="462" width="2" height="1" fill="#000"/>
<text x="1527.5" y="466" font-size="10" fill="#000" stroke="#000" stroke-width="0.3" textLength="32.3" lengthAdjust="spacingAndGlyphs">1.31590</text>
<rect x="1522" y="495" width="2" height="1" fill="#000"/>
<text x="1527.5" y="499" font-size="10" fill="#000" stroke="#000" stroke-width="0.3" textLength="32.3" lengthAdjust="spacingAndGlyphs">1.30365</text>
<rect x="1522" y="528" width="2" height="1" fill="#000"/>
<text x="1527.5" y="532" font-size="10" fill="#000" stroke="#000" stroke-width="0.3" textLength="32.3" lengthAdjust="spacingAndGlyphs">1.29175</text>
<rect x="1523" y="45" width="40" height="11" fill="#f00"/>
<text x="1527.5" y="54" font-size="10" fill="#fff" stroke="#fff" stroke-width="0.3" textLength="32.3" lengthAdjust="spacingAndGlyphs">1.46651</text>
<rect x="1523" y="124" width="40" height="11" fill="#f00"/>
<text x="1527.5" y="133" font-size="10" fill="#fff" stroke="#fff" stroke-width="0.3" textLength="32.3" lengthAdjust="spacingAndGlyphs">1.43780</text>
<rect x="1523" y="199" width="40" height="11" fill="#0f0"/>
<text x="1527.5" y="208" font-size="10" fill="#fff" stroke="#fff" stroke-width="0.3" textLength="32.3" lengthAdjust="spacingAndGlyphs">1.41000</text>
<rect x="1523" y="269" width="40" height="11" fill="#00f"/>
<text x="1527.5" y="278" font-size="10" fill="#fff" stroke="#fff" stroke-width="0.3" textLength="32.3" lengthAdjust="spacingAndGlyphs">1.38447</text>
<rect x="1523" y="335" width="40" height="11" fill="#00f"/>
<text x="1527.5" y="344" font-size="10" fill="#fff" stroke="#fff" stroke-width="0.3" textLength="32.3" lengthAdjust="spacingAndGlyphs">1.36029</text>
<rect x="1523" y="417" width="40" height="11" fill="#00f"/>
<text x="1527.5" y="426" font-size="10" fill="#fff" stroke="#fff" stroke-width="0.3" textLength="32.3" lengthAdjust="spacingAndGlyphs">1.33026</text>
<rect x="1521" y="234" width="1" height="1" fill="#c0c0c0"/>
<rect x="1523" y="229" width="40" height="11" fill="#000"/>
<text x="1527.5" y="238" font-size="10" fill="#fff" stroke="#fff" stroke-width="0.3" textLength="32.3" lengthAdjust="spacingAndGlyphs">1.39969</text>
<text x="1525.4" y="544" font-size="10" fill="#000" stroke="#000" stroke-width="0.3" textLength="14.4" lengthAdjust="spacingAndGlyphs">100</text>
<text x="1524.1" y="565" font-size="10" fill="#000" stroke="#000" stroke-width="0.3" textLength="9.9" lengthAdjust="spacingAndGlyphs">70</text>
<text x="1524.1" y="601" font-size="10" fill="#000" stroke="#000" stroke-width="0.3" textLength="9.9" lengthAdjust="spacingAndGlyphs">30</text>
<text x="1525.1" y="622" font-size="10" fill="#000" stroke="#000" stroke-width="0.3" textLength="4.7" lengthAdjust="spacingAndGlyphs">0</text>
<rect x="1522" y="535" width="1" height="1" fill="#000"/>
<rect x="1522" y="624" width="1" height="1" fill="#000"/>
<rect x="1522" y="629" width="1" height="1" fill="#000"/>
<rect x="1522" y="701" width="1" height="1" fill="#000"/>
<rect x="1522" y="718" width="1" height="1" fill="#000"/>
<text x="1525.1" y="638" font-size="10" fill="#000" stroke="#000" stroke-width="0.3" textLength="37.6" lengthAdjust="spacingAndGlyphs">0.032493</text>
<text x="1525.1" y="705" font-size="10" fill="#000" stroke="#000" stroke-width="0.3" textLength="17.8" lengthAdjust="spacingAndGlyphs">0.00</text>
<text x="1525.1" y="716" font-size="10" fill="#000" stroke="#000" stroke-width="0.3" textLength="40.8" lengthAdjust="spacingAndGlyphs">-0.008086</text>
</g>
<rect x="9" y="33" width="7" height="1" fill="#000"/>
<rect x="10" y="34" width="5" height="1" fill="#000"/>
<rect x="11" y="35" width="3" height="1" fill="#000"/>
<rect x="12" y="36" width="1" height="1" fill="#000"/>
<text x="21.2" y="38" font-size="10" fill="#000" stroke="#000" stroke-width="0.3" textLength="65.9" lengthAdjust="spacingAndGlyphs">USDCAD,Daily</text>
<text x="93.7" y="38" font-size="10" fill="#000" stroke="#000" stroke-width="0.3" textLength="140.1" lengthAdjust="spacingAndGlyphs">1.39869 1.39982 1.39783 1.39969</text>
<text x="10.5" y="546" font-size="10" fill="#000" stroke="#000" stroke-width="0.3" textLength="67.6" lengthAdjust="spacingAndGlyphs">RSI(14) 49.0788</text>
<text x="10.5" y="640" font-size="10" fill="#000" stroke="#000" stroke-width="0.3" textLength="153.5" lengthAdjust="spacingAndGlyphs">MACD(12,26,9) -0.001433 -0.000872</text>
<g id="daxis">
<rect x="6" y="720" width="1" height="3" fill="#000"/>
<text x="5.2" y="732" font-size="10" fill="#000" stroke="#000" stroke-width="0.3" textLength="47" lengthAdjust="spacingAndGlyphs">2 Dec 2019</text>
<rect x="70" y="720" width="1" height="3" fill="#000"/>
<text x="69.2" y="732" font-size="10" fill="#000" stroke="#000" stroke-width="0.3" textLength="51.6" lengthAdjust="spacingAndGlyphs">11 Dec 2019</text>
<rect x="134" y="720" width="1" height="3" fill="#000"/>
<text x="133.2" y="732" font-size="10" fill="#000" stroke="#000" stroke-width="0.3" textLength="51.3" lengthAdjust="spacingAndGlyphs">20 Dec 2019</text>
<rect x="198" y="720" width="1" height="3" fill="#000"/>
<text x="197.2" y="732" font-size="10" fill="#000" stroke="#000" stroke-width="0.3" textLength="51.3" lengthAdjust="spacingAndGlyphs">30 Dec 2019</text>
<rect x="262" y="720" width="1" height="3" fill="#000"/>
<text x="261.2" y="732" font-size="10" fill="#000" stroke="#000" stroke-width="0.3" textLength="44.4" lengthAdjust="spacingAndGlyphs">8 Jan 2020</text>
<rect x="326" y="720" width="1" height="3" fill="#000"/>
<text x="325.2" y="732" font-size="10" fill="#000" stroke="#000" stroke-width="0.3" textLength="49.2" lengthAdjust="spacingAndGlyphs">17 Jan 2020</text>
<rect x="390" y="720" width="1" height="3" fill="#000"/>
<text x="389.2" y="732" font-size="10" fill="#000" stroke="#000" stroke-width="0.3" textLength="48.7" lengthAdjust="spacingAndGlyphs">27 Jan 2020</text>
<rect x="454" y="720" width="1" height="3" fill="#000"/>
<text x="453.2" y="732" font-size="10" fill="#000" stroke="#000" stroke-width="0.3" textLength="46.5" lengthAdjust="spacingAndGlyphs">5 Feb 2020</text>
<rect x="518" y="720" width="1" height="3" fill="#000"/>
<text x="517.2" y="732" font-size="10" fill="#000" stroke="#000" stroke-width="0.3" textLength="51.6" lengthAdjust="spacingAndGlyphs">14 Feb 2020</text>
<rect x="582" y="720" width="1" height="3" fill="#000"/>
<text x="581.2" y="732" font-size="10" fill="#000" stroke="#000" stroke-width="0.3" textLength="51.6" lengthAdjust="spacingAndGlyphs">24 Feb 2020</text>
<rect x="646" y="720" width="1" height="3" fill="#000"/>
<text x="645.2" y="732" font-size="10" fill="#000" stroke="#000" stroke-width="0.3" textLength="46.5" lengthAdjust="spacingAndGlyphs">4 Mar 2020</text>
<rect x="710" y="720" width="1" height="3" fill="#000"/>
<text x="709.2" y="732" font-size="10" fill="#000" stroke="#000" stroke-width="0.3" textLength="51.1" lengthAdjust="spacingAndGlyphs">13 Mar 2020</text>
<rect x="774" y="720" width="1" height="3" fill="#000"/>
<text x="773.2" y="732" font-size="10" fill="#000" stroke="#000" stroke-width="0.3" textLength="51.4" lengthAdjust="spacingAndGlyphs">23 Mar 2020</text>
<rect x="838" y="720" width="1" height="3" fill="#000"/>
<text x="837.2" y="732" font-size="10" fill="#000" stroke="#000" stroke-width="0.3" textLength="45.1" lengthAdjust="spacingAndGlyphs">1 Apr 2020</text>
<rect x="902" y="720" width="1" height="3" fill="#000"/>
<text x="901.2" y="732" font-size="10" fill="#000" stroke="#000" stroke-width="0.3" textLength="50.2" lengthAdjust="spacingAndGlyphs">10 Apr 2020</text>
<rect x="966" y="720" width="1" height="3" fill="#000"/>
<text x="965.2" y="732" font-size="10" fill="#000" stroke="#000" stroke-width="0.3" textLength="50.3" lengthAdjust="spacingAndGlyphs">20 Apr 2020</text>
<rect x="1030" y="720" width="1" height="3" fill="#000"/>
<text x="1029.2" y="732" font-size="10" fill="#000" stroke="#000" stroke-width="0.3" textLength="50.3" lengthAdjust="spacingAndGlyphs">29 Apr 2020</text>
<rect x="1094" y="720" width="1" height="3" fill="#000"/>
<text x="1093.2" y="732" font-size="10" fill="#000" stroke="#000" stroke-width="0.3" textLength="49.2" lengthAdjust="spacingAndGlyphs">8 May 2020</text>
<rect x="1158" y="720" width="1" height="3" fill="#000"/>
<text x="1157.2" y="732" font-size="10" fill="#000" stroke="#000" stroke-width="0.3" textLength="54.5" lengthAdjust="spacingAndGlyphs">18 May 2020</text>
</g>
<g id="tabs">
<rect x="0" y="740" width="1563" height="1" fill="#e3e3e3"/>
<rect x="3" y="744" width="1560" height="17" fill="#f0f0f0"/>
<rect x="3" y="761" width="1560" height="1" fill="#f7f7f7"/>
<rect x="0" y="762" width="1563" height="1" fill="#fff"/>
<rect x="1" y="743" width="2" height="19" fill="#808080"/>
<rect x="0" y="742" width="316" height="1" fill="#000"/>
<rect x="418" y="742" width="1145" height="1" fill="#000"/>
<rect x="316" y="742" width="102" height="19" fill="#fff"/>
<rect x="315" y="742" width="1" height="19" fill="#000"/>
<rect x="418" y="742" width="1" height="19" fill="#000"/>
<rect x="315" y="760" width="104" height="1" fill="#000"/>
<text x="19.2" y="757" font-size="12.4" fill="#646464" stroke="#646464" stroke-width="0" textLength="80.3" lengthAdjust="spacingAndGlyphs">EURUSD,Daily</text>
<text x="121.3" y="757" font-size="12.4" fill="#646464" stroke="#646464" stroke-width="0" textLength="79.2" lengthAdjust="spacingAndGlyphs">USDCHF,Daily</text>
<text x="222.6" y="757" font-size="12.4" fill="#646464" stroke="#646464" stroke-width="0" textLength="82.4" lengthAdjust="spacingAndGlyphs">AUDUSD,Daily</text>
<text x="326.6" y="757" font-size="12.4" fill="#000" stroke="#000" stroke-width="0.25" textLength="80.6" lengthAdjust="spacingAndGlyphs">USDCAD,Daily</text>
<text x="429" y="757" font-size="12.4" fill="#646464" stroke="#646464" stroke-width="0" textLength="83.6" lengthAdjust="spacingAndGlyphs">USDCNH,Daily</text>
<text x="535.6" y="757" font-size="12.4" fill="#646464" stroke="#646464" stroke-width="0" textLength="80.0" lengthAdjust="spacingAndGlyphs">EURUSD,Daily</text>
<text x="639.2" y="757" font-size="12.4" fill="#646464" stroke="#646464" stroke-width="0" textLength="80.3" lengthAdjust="spacingAndGlyphs">GBPUSD,Daily</text>
<text x="742.6" y="757" font-size="12.4" fill="#646464" stroke="#646464" stroke-width="0" textLength="68.2" lengthAdjust="spacingAndGlyphs">XAUUSD,H4</text>
<text x="834.4" y="757" font-size="12.4" fill="#646464" stroke="#646464" stroke-width="0" textLength="49.4" lengthAdjust="spacingAndGlyphs">HK50,H1</text>
<text x="906.4" y="757" font-size="12.4" fill="#646464" stroke="#646464" stroke-width="0" textLength="56.9" lengthAdjust="spacingAndGlyphs">UK100,H1</text>
<text x="986.4" y="757" font-size="12.4" fill="#646464" stroke="#646464" stroke-width="0" textLength="56.9" lengthAdjust="spacingAndGlyphs">UK100,H1</text>
<text x="1066.7" y="757" font-size="12.4" fill="#646464" stroke="#646464" stroke-width="0" textLength="56.9" lengthAdjust="spacingAndGlyphs">GER30,H1</text>
<text x="1146.2" y="757" font-size="12.4" fill="#646464" stroke="#646464" stroke-width="0" textLength="53.5" lengthAdjust="spacingAndGlyphs">FRA40,H1</text>
<text x="1221.5" y="757" font-size="12.4" fill="#646464" stroke="#646464" stroke-width="0" textLength="50.5" lengthAdjust="spacingAndGlyphs">USOil,H1</text>
<text x="1293.8" y="757" font-size="12.4" fill="#646464" stroke="#646464" stroke-width="0" textLength="62.0" lengthAdjust="spacingAndGlyphs">USDJPY,H1</text>
<text x="1377.9" y="757" font-size="12.4" fill="#646464" stroke="#646464" stroke-width="0" textLength="58.7" lengthAdjust="spacingAndGlyphs">DJ30,Daily</text>
<rect x="111" y="745" width="1" height="14" fill="#5a5a5a"/>
<rect x="211" y="745" width="1" height="14" fill="#5a5a5a"/>
<rect x="523" y="745" width="1" height="14" fill="#5a5a5a"/>
<rect x="627" y="745" width="1" height="14" fill="#5a5a5a"/>
<rect x="731" y="745" width="1" height="14" fill="#5a5a5a"/>
<rect x="823" y="745" width="1" height="14" fill="#5a5a5a"/>
<rect x="895" y="745" width="1" height="14" fill="#5a5a5a"/>
<rect x="975" y="745" width="1" height="14" fill="#5a5a5a"/>
<rect x="1055" y="745" width="1" height="14" fill="#5a5a5a"/>
<rect x="1135" y="745" width="1" height="14" fill="#5a5a5a"/>
<rect x="1211" y="745" width="1" height="14" fill="#5a5a5a"/>
<rect x="1283" y="745" width="1" height="14" fill="#5a5a5a"/>
<rect x="1367" y="745" width="1" height="14" fill="#5a5a5a"/>
<rect x="1447" y="745" width="1" height="14" fill="#5a5a5a"/>
<polygon points="1540.3,747.6 1540.3,754.4 1536.8,751" fill="#8c8c8c" shape-rendering="auto"/>
<polygon points="1556,747.6 1556,754.4 1559.5,751" fill="#8c8c8c" shape-rendering="auto"/>
</g>
</svg></body></html>
